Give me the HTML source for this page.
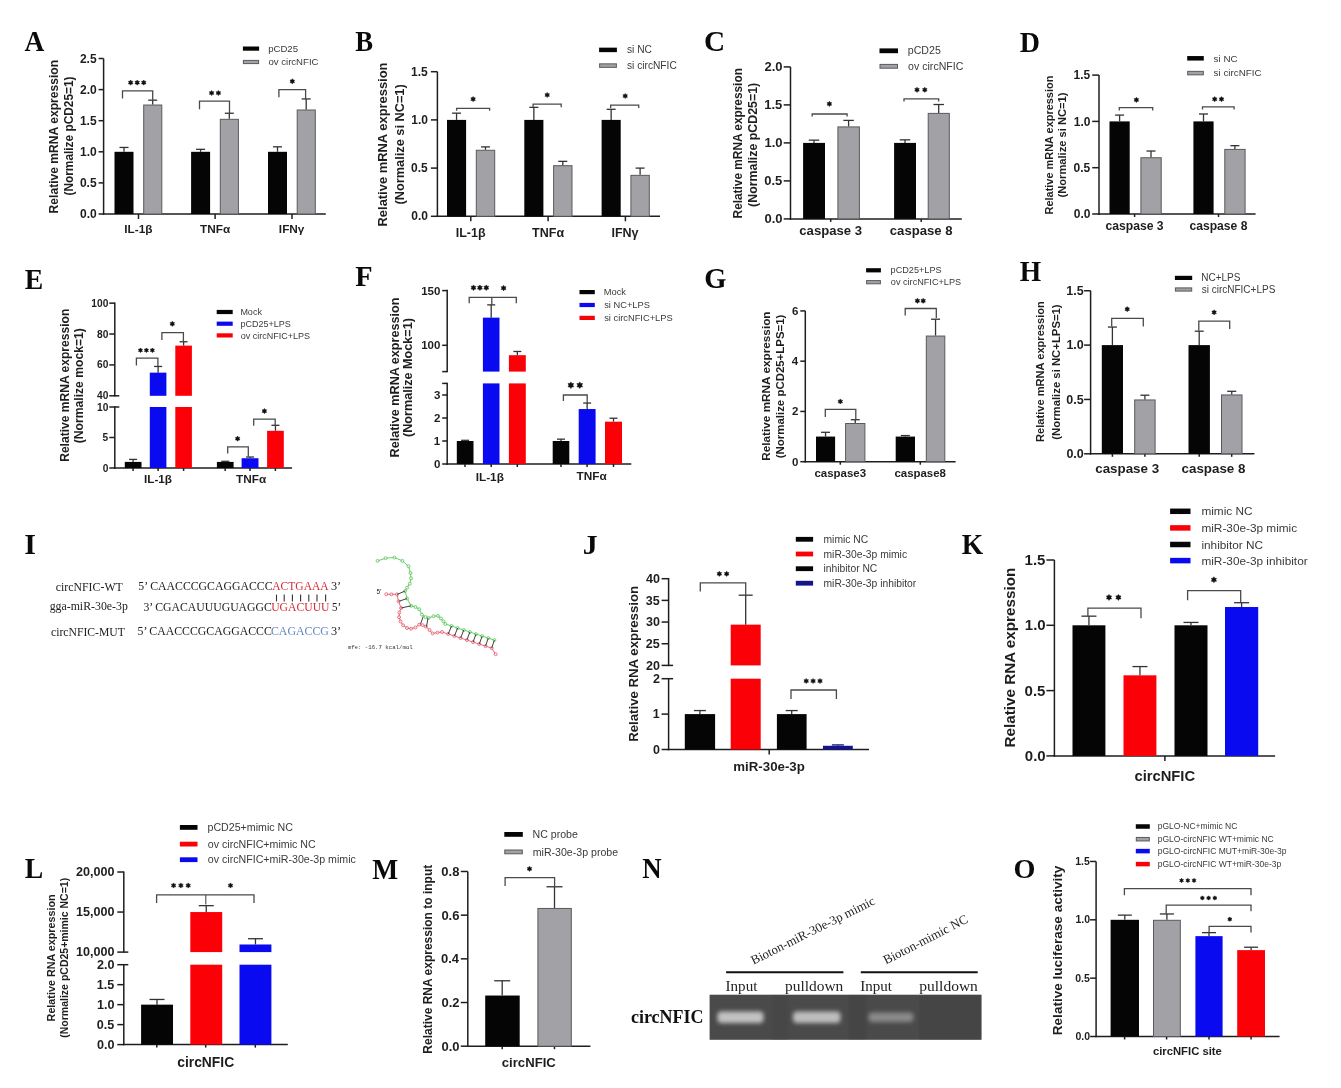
<!DOCTYPE html>
<html><head><meta charset="utf-8"><title>Figure</title>
<style>html,body{margin:0;padding:0;background:#fff;overflow:hidden}svg{filter:blur(0.45px)}svg text{white-space:pre}</style>
</head><body>
<svg width="1341" height="1088" viewBox="0 0 1341 1088" style="display:block"><text x="24.52" y="50.90" font-family='"Liberation Serif", serif' font-weight="bold" font-size="29.24" fill="#0a0a0a" textLength="19.87" lengthAdjust="spacingAndGlyphs">A</text>
<line x1="103.60" y1="58.50" x2="103.60" y2="214.75" stroke="#1e1e1e" stroke-width="1.5"/>
<line x1="98.60" y1="214.00" x2="103.60" y2="214.00" stroke="#1e1e1e" stroke-width="1.5"/>
<text x="80.10" y="218.14" font-family='"Liberation Sans", sans-serif' font-weight="bold" font-size="12.00" fill="#1e1e1e">0.0</text>
<line x1="98.60" y1="182.90" x2="103.60" y2="182.90" stroke="#1e1e1e" stroke-width="1.5"/>
<text x="79.92" y="187.04" font-family='"Liberation Sans", sans-serif' font-weight="bold" font-size="12.00" fill="#1e1e1e">0.5</text>
<line x1="98.60" y1="151.80" x2="103.60" y2="151.80" stroke="#1e1e1e" stroke-width="1.5"/>
<text x="80.10" y="155.94" font-family='"Liberation Sans", sans-serif' font-weight="bold" font-size="12.00" fill="#1e1e1e">1.0</text>
<line x1="98.60" y1="120.70" x2="103.60" y2="120.70" stroke="#1e1e1e" stroke-width="1.5"/>
<text x="79.92" y="124.84" font-family='"Liberation Sans", sans-serif' font-weight="bold" font-size="12.00" fill="#1e1e1e">1.5</text>
<line x1="98.60" y1="89.60" x2="103.60" y2="89.60" stroke="#1e1e1e" stroke-width="1.5"/>
<text x="80.10" y="93.74" font-family='"Liberation Sans", sans-serif' font-weight="bold" font-size="12.00" fill="#1e1e1e">2.0</text>
<line x1="98.60" y1="58.50" x2="103.60" y2="58.50" stroke="#1e1e1e" stroke-width="1.5"/>
<text x="79.92" y="62.64" font-family='"Liberation Sans", sans-serif' font-weight="bold" font-size="12.00" fill="#1e1e1e">2.5</text>
<line x1="102.85" y1="214.00" x2="325.80" y2="214.00" stroke="#1e1e1e" stroke-width="1.5"/>
<line x1="138.50" y1="214.00" x2="138.50" y2="219.00" stroke="#1e1e1e" stroke-width="1.5"/>
<line x1="215.10" y1="214.00" x2="215.10" y2="219.00" stroke="#1e1e1e" stroke-width="1.5"/>
<line x1="292.00" y1="214.00" x2="292.00" y2="219.00" stroke="#1e1e1e" stroke-width="1.5"/>
<rect x="114.50" y="151.80" width="19.00" height="62.20" fill="#050505"/>
<line x1="124.00" y1="151.80" x2="124.00" y2="147.45" stroke="#333" stroke-width="1.3"/>
<line x1="119.50" y1="147.45" x2="128.50" y2="147.45" stroke="#333" stroke-width="1.3"/>
<rect x="143.70" y="105.03" width="18.10" height="108.97" fill="#a2a1a6" stroke="#5a5a5e" stroke-width="1.0"/>
<line x1="152.70" y1="104.53" x2="152.70" y2="100.17" stroke="#333" stroke-width="1.3"/>
<line x1="148.20" y1="100.17" x2="157.20" y2="100.17" stroke="#333" stroke-width="1.3"/>
<rect x="191.10" y="151.80" width="19.00" height="62.20" fill="#050505"/>
<line x1="200.60" y1="151.80" x2="200.60" y2="149.31" stroke="#333" stroke-width="1.3"/>
<line x1="196.10" y1="149.31" x2="205.10" y2="149.31" stroke="#333" stroke-width="1.3"/>
<rect x="220.30" y="119.33" width="18.10" height="94.67" fill="#a2a1a6" stroke="#5a5a5e" stroke-width="1.0"/>
<line x1="229.30" y1="118.83" x2="229.30" y2="113.24" stroke="#333" stroke-width="1.3"/>
<line x1="224.80" y1="113.24" x2="233.80" y2="113.24" stroke="#333" stroke-width="1.3"/>
<rect x="268.00" y="151.80" width="19.00" height="62.20" fill="#050505"/>
<line x1="277.50" y1="151.80" x2="277.50" y2="146.82" stroke="#333" stroke-width="1.3"/>
<line x1="273.00" y1="146.82" x2="282.00" y2="146.82" stroke="#333" stroke-width="1.3"/>
<rect x="297.20" y="110.00" width="18.10" height="104.00" fill="#a2a1a6" stroke="#5a5a5e" stroke-width="1.0"/>
<line x1="306.20" y1="109.50" x2="306.20" y2="98.93" stroke="#333" stroke-width="1.3"/>
<line x1="301.70" y1="98.93" x2="310.70" y2="98.93" stroke="#333" stroke-width="1.3"/>
<polyline points="122.50,98.60 122.50,90.80 152.70,90.80 152.70,99.90" fill="none" stroke="#4a4a4a" stroke-width="1.3" stroke-linejoin="miter"/>
<polygon points="130.65,80.00 131.43,81.25 132.90,81.30 132.21,82.60 132.90,83.90 131.43,83.95 130.65,85.20 129.87,83.95 128.40,83.90 129.09,82.60 128.40,81.30 129.87,81.25" fill="#111" stroke="#111" stroke-width="0.5" stroke-linejoin="round"/>
<polygon points="137.20,80.00 137.98,81.25 139.45,81.30 138.76,82.60 139.45,83.90 137.98,83.95 137.20,85.20 136.42,83.95 134.95,83.90 135.64,82.60 134.95,81.30 136.42,81.25" fill="#111" stroke="#111" stroke-width="0.5" stroke-linejoin="round"/>
<polygon points="143.75,80.00 144.53,81.25 146.00,81.30 145.31,82.60 146.00,83.90 144.53,83.95 143.75,85.20 142.97,83.95 141.50,83.90 142.19,82.60 141.50,81.30 142.97,81.25" fill="#111" stroke="#111" stroke-width="0.5" stroke-linejoin="round"/>
<polyline points="199.50,109.20 199.50,101.10 229.50,101.10 229.50,113.30" fill="none" stroke="#4a4a4a" stroke-width="1.3" stroke-linejoin="miter"/>
<polygon points="211.60,90.40 212.38,91.65 213.85,91.70 213.16,93.00 213.85,94.30 212.38,94.35 211.60,95.60 210.82,94.35 209.35,94.30 210.04,93.00 209.35,91.70 210.82,91.65" fill="#111" stroke="#111" stroke-width="0.5" stroke-linejoin="round"/>
<polygon points="218.40,90.40 219.18,91.65 220.65,91.70 219.96,93.00 220.65,94.30 219.18,94.35 218.40,95.60 217.62,94.35 216.15,94.30 216.84,93.00 216.15,91.70 217.62,91.65" fill="#111" stroke="#111" stroke-width="0.5" stroke-linejoin="round"/>
<polyline points="278.90,97.30 278.90,89.70 305.60,89.70 305.60,98.90" fill="none" stroke="#4a4a4a" stroke-width="1.3" stroke-linejoin="miter"/>
<polygon points="292.30,78.70 293.08,79.95 294.55,80.00 293.86,81.30 294.55,82.60 293.08,82.65 292.30,83.90 291.52,82.65 290.05,82.60 290.74,81.30 290.05,80.00 291.52,79.95" fill="#111" stroke="#111" stroke-width="0.5" stroke-linejoin="round"/>
<rect x="242.90" y="46.50" width="16.20" height="4.20" fill="#050505"/>
<text x="268.18" y="51.91" font-family='"Liberation Sans", sans-serif' font-weight="normal" font-size="9.60" fill="#3a3a3a">pCD25</text>
<rect x="243.40" y="60.40" width="15.20" height="3.20" fill="#a2a1a6" stroke="#5a5a5e" stroke-width="1.0"/>
<text x="268.42" y="65.31" font-family='"Liberation Sans", sans-serif' font-weight="normal" font-size="9.60" fill="#3a3a3a">ov circNFIC</text>
<text transform="translate(53.80,136.60) rotate(-90)" x="-76.79" y="4.17" font-family='"Liberation Sans", sans-serif' font-weight="bold" font-size="12.10" fill="#1e1e1e">Relative mRNA expression</text>
<text transform="translate(68.50,136.00) rotate(-90)" x="-59.59" y="4.10" font-family='"Liberation Sans", sans-serif' font-weight="bold" font-size="11.88" fill="#1e1e1e">(Normalize pCD25=1)</text>
<text x="124.22" y="233.07" font-family='"Liberation Sans", sans-serif' font-weight="bold" font-size="11.80" fill="#1e1e1e">IL-1β</text>
<text x="200.00" y="233.07" font-family='"Liberation Sans", sans-serif' font-weight="bold" font-size="11.80" fill="#1e1e1e">TNFα</text>
<text x="278.87" y="233.07" font-family='"Liberation Sans", sans-serif' font-weight="bold" font-size="11.80" fill="#1e1e1e">IFNγ</text>
<text x="355.30" y="51.45" font-family='"Liberation Serif", serif' font-weight="bold" font-size="29.39" fill="#0a0a0a" textLength="17.82" lengthAdjust="spacingAndGlyphs">B</text>
<line x1="437.40" y1="71.70" x2="437.40" y2="217.05" stroke="#1e1e1e" stroke-width="1.5"/>
<line x1="430.90" y1="216.30" x2="437.40" y2="216.30" stroke="#1e1e1e" stroke-width="1.5"/>
<text x="411.30" y="220.44" font-family='"Liberation Sans", sans-serif' font-weight="bold" font-size="12.00" fill="#1e1e1e">0.0</text>
<line x1="430.90" y1="168.10" x2="437.40" y2="168.10" stroke="#1e1e1e" stroke-width="1.5"/>
<text x="411.12" y="172.24" font-family='"Liberation Sans", sans-serif' font-weight="bold" font-size="12.00" fill="#1e1e1e">0.5</text>
<line x1="430.90" y1="119.90" x2="437.40" y2="119.90" stroke="#1e1e1e" stroke-width="1.5"/>
<text x="411.30" y="124.04" font-family='"Liberation Sans", sans-serif' font-weight="bold" font-size="12.00" fill="#1e1e1e">1.0</text>
<line x1="430.90" y1="71.70" x2="437.40" y2="71.70" stroke="#1e1e1e" stroke-width="1.5"/>
<text x="411.12" y="75.84" font-family='"Liberation Sans", sans-serif' font-weight="bold" font-size="12.00" fill="#1e1e1e">1.5</text>
<line x1="436.65" y1="216.30" x2="660.00" y2="216.30" stroke="#1e1e1e" stroke-width="1.5"/>
<line x1="470.80" y1="216.30" x2="470.80" y2="221.30" stroke="#1e1e1e" stroke-width="1.5"/>
<line x1="548.10" y1="216.30" x2="548.10" y2="221.30" stroke="#1e1e1e" stroke-width="1.5"/>
<line x1="625.40" y1="216.30" x2="625.40" y2="221.30" stroke="#1e1e1e" stroke-width="1.5"/>
<rect x="447.00" y="119.90" width="19.10" height="96.40" fill="#050505"/>
<line x1="456.55" y1="119.90" x2="456.55" y2="113.15" stroke="#333" stroke-width="1.3"/>
<line x1="452.05" y1="113.15" x2="461.05" y2="113.15" stroke="#333" stroke-width="1.3"/>
<rect x="476.30" y="150.28" width="18.40" height="66.02" fill="#a2a1a6" stroke="#5a5a5e" stroke-width="1.0"/>
<line x1="485.50" y1="149.78" x2="485.50" y2="146.89" stroke="#333" stroke-width="1.3"/>
<line x1="481.00" y1="146.89" x2="490.00" y2="146.89" stroke="#333" stroke-width="1.3"/>
<rect x="524.30" y="119.90" width="19.10" height="96.40" fill="#050505"/>
<line x1="533.85" y1="119.90" x2="533.85" y2="107.37" stroke="#333" stroke-width="1.3"/>
<line x1="529.35" y1="107.37" x2="538.35" y2="107.37" stroke="#333" stroke-width="1.3"/>
<rect x="553.60" y="165.71" width="18.40" height="50.59" fill="#a2a1a6" stroke="#5a5a5e" stroke-width="1.0"/>
<line x1="562.80" y1="165.21" x2="562.80" y2="161.35" stroke="#333" stroke-width="1.3"/>
<line x1="558.30" y1="161.35" x2="567.30" y2="161.35" stroke="#333" stroke-width="1.3"/>
<rect x="601.60" y="119.90" width="19.10" height="96.40" fill="#050505"/>
<line x1="611.15" y1="119.90" x2="611.15" y2="109.30" stroke="#333" stroke-width="1.3"/>
<line x1="606.65" y1="109.30" x2="615.65" y2="109.30" stroke="#333" stroke-width="1.3"/>
<rect x="630.90" y="175.35" width="18.40" height="40.95" fill="#a2a1a6" stroke="#5a5a5e" stroke-width="1.0"/>
<line x1="640.10" y1="174.85" x2="640.10" y2="168.10" stroke="#333" stroke-width="1.3"/>
<line x1="635.60" y1="168.10" x2="644.60" y2="168.10" stroke="#333" stroke-width="1.3"/>
<polyline points="456.60,110.70 456.60,108.30 489.60,108.30 489.60,110.70" fill="none" stroke="#4a4a4a" stroke-width="1.3" stroke-linejoin="miter"/>
<polygon points="473.10,96.50 473.88,97.75 475.35,97.80 474.66,99.10 475.35,100.40 473.88,100.45 473.10,101.70 472.32,100.45 470.85,100.40 471.54,99.10 470.85,97.80 472.32,97.75" fill="#111" stroke="#111" stroke-width="0.5" stroke-linejoin="round"/>
<polyline points="533.10,107.20 533.10,104.20 561.20,104.20 561.20,107.20" fill="none" stroke="#4a4a4a" stroke-width="1.3" stroke-linejoin="miter"/>
<polygon points="547.20,92.40 547.98,93.65 549.45,93.70 548.76,95.00 549.45,96.30 547.98,96.35 547.20,97.60 546.42,96.35 544.95,96.30 545.64,95.00 544.95,93.70 546.42,93.65" fill="#111" stroke="#111" stroke-width="0.5" stroke-linejoin="round"/>
<polyline points="610.70,108.00 610.70,105.20 638.70,105.20 638.70,108.00" fill="none" stroke="#4a4a4a" stroke-width="1.3" stroke-linejoin="miter"/>
<polygon points="625.20,93.40 625.98,94.65 627.45,94.70 626.76,96.00 627.45,97.30 625.98,97.35 625.20,98.60 624.42,97.35 622.95,97.30 623.64,96.00 622.95,94.70 624.42,94.65" fill="#111" stroke="#111" stroke-width="0.5" stroke-linejoin="round"/>
<rect x="599.10" y="47.65" width="17.80" height="4.50" fill="#050505"/>
<text x="626.99" y="53.42" font-family='"Liberation Sans", sans-serif' font-weight="normal" font-size="10.20" fill="#3a3a3a">si NC</text>
<rect x="599.60" y="63.85" width="16.80" height="3.50" fill="#a2a1a6" stroke="#5a5a5e" stroke-width="1.0"/>
<text x="626.99" y="69.12" font-family='"Liberation Sans", sans-serif' font-weight="normal" font-size="10.20" fill="#3a3a3a">si circNFIC</text>
<text transform="translate(382.50,144.40) rotate(-90)" x="-82.09" y="4.46" font-family='"Liberation Sans", sans-serif' font-weight="bold" font-size="12.93" fill="#1e1e1e">Relative mRNA expression</text>
<text transform="translate(399.30,144.40) rotate(-90)" x="-60.04" y="4.40" font-family='"Liberation Sans", sans-serif' font-weight="bold" font-size="12.75" fill="#1e1e1e">(Normalize si NC=1)</text>
<text x="455.68" y="237.41" font-family='"Liberation Sans", sans-serif' font-weight="bold" font-size="12.50" fill="#1e1e1e">IL-1β</text>
<text x="532.10" y="237.41" font-family='"Liberation Sans", sans-serif' font-weight="bold" font-size="12.50" fill="#1e1e1e">TNFα</text>
<text x="611.49" y="237.41" font-family='"Liberation Sans", sans-serif' font-weight="bold" font-size="12.50" fill="#1e1e1e">IFNγ</text>
<text x="704.14" y="50.61" font-family='"Liberation Serif", serif' font-weight="bold" font-size="28.81" fill="#0a0a0a" textLength="21.12" lengthAdjust="spacingAndGlyphs">C</text>
<line x1="790.50" y1="66.90" x2="790.50" y2="219.65" stroke="#1e1e1e" stroke-width="1.5"/>
<line x1="783.70" y1="218.90" x2="790.50" y2="218.90" stroke="#1e1e1e" stroke-width="1.5"/>
<text x="764.45" y="223.39" font-family='"Liberation Sans", sans-serif' font-weight="bold" font-size="13.00" fill="#1e1e1e">0.0</text>
<line x1="783.70" y1="180.90" x2="790.50" y2="180.90" stroke="#1e1e1e" stroke-width="1.5"/>
<text x="764.25" y="185.39" font-family='"Liberation Sans", sans-serif' font-weight="bold" font-size="13.00" fill="#1e1e1e">0.5</text>
<line x1="783.70" y1="142.90" x2="790.50" y2="142.90" stroke="#1e1e1e" stroke-width="1.5"/>
<text x="764.45" y="147.39" font-family='"Liberation Sans", sans-serif' font-weight="bold" font-size="13.00" fill="#1e1e1e">1.0</text>
<line x1="783.70" y1="104.90" x2="790.50" y2="104.90" stroke="#1e1e1e" stroke-width="1.5"/>
<text x="764.25" y="109.39" font-family='"Liberation Sans", sans-serif' font-weight="bold" font-size="13.00" fill="#1e1e1e">1.5</text>
<line x1="783.70" y1="66.90" x2="790.50" y2="66.90" stroke="#1e1e1e" stroke-width="1.5"/>
<text x="764.45" y="71.39" font-family='"Liberation Sans", sans-serif' font-weight="bold" font-size="13.00" fill="#1e1e1e">2.0</text>
<line x1="789.75" y1="218.90" x2="961.80" y2="218.90" stroke="#1e1e1e" stroke-width="1.5"/>
<line x1="830.70" y1="218.90" x2="830.70" y2="221.90" stroke="#1e1e1e" stroke-width="1.5"/>
<line x1="921.20" y1="218.90" x2="921.20" y2="221.90" stroke="#1e1e1e" stroke-width="1.5"/>
<rect x="803.10" y="142.90" width="21.90" height="76.00" fill="#050505"/>
<line x1="814.00" y1="142.90" x2="814.00" y2="140.16" stroke="#333" stroke-width="1.3"/>
<line x1="808.75" y1="140.16" x2="819.25" y2="140.16" stroke="#333" stroke-width="1.3"/>
<rect x="837.90" y="126.91" width="21.50" height="91.99" fill="#a2a1a6" stroke="#5a5a5e" stroke-width="1.0"/>
<line x1="848.60" y1="126.41" x2="848.60" y2="120.40" stroke="#333" stroke-width="1.3"/>
<line x1="843.35" y1="120.40" x2="853.85" y2="120.40" stroke="#333" stroke-width="1.3"/>
<rect x="894.10" y="142.90" width="21.90" height="76.00" fill="#050505"/>
<line x1="905.00" y1="142.90" x2="905.00" y2="139.86" stroke="#333" stroke-width="1.3"/>
<line x1="899.75" y1="139.86" x2="910.25" y2="139.86" stroke="#333" stroke-width="1.3"/>
<rect x="928.20" y="113.38" width="21.10" height="105.52" fill="#a2a1a6" stroke="#5a5a5e" stroke-width="1.0"/>
<line x1="938.70" y1="112.88" x2="938.70" y2="104.52" stroke="#333" stroke-width="1.3"/>
<line x1="933.45" y1="104.52" x2="943.95" y2="104.52" stroke="#333" stroke-width="1.3"/>
<polyline points="812.20,116.50 812.20,114.00 847.10,114.00 847.10,116.50" fill="none" stroke="#4a4a4a" stroke-width="1.3" stroke-linejoin="miter"/>
<polygon points="829.40,101.30 830.18,102.55 831.65,102.60 830.96,103.90 831.65,105.20 830.18,105.25 829.40,106.50 828.62,105.25 827.15,105.20 827.84,103.90 827.15,102.60 828.62,102.55" fill="#111" stroke="#111" stroke-width="0.5" stroke-linejoin="round"/>
<polyline points="904.00,101.50 904.00,98.80 938.70,98.80 938.70,101.50" fill="none" stroke="#4a4a4a" stroke-width="1.3" stroke-linejoin="miter"/>
<polygon points="917.00,87.20 917.78,88.45 919.25,88.50 918.56,89.80 919.25,91.10 917.78,91.15 917.00,92.40 916.22,91.15 914.75,91.10 915.44,89.80 914.75,88.50 916.22,88.45" fill="#111" stroke="#111" stroke-width="0.5" stroke-linejoin="round"/>
<polygon points="924.80,87.20 925.58,88.45 927.05,88.50 926.36,89.80 927.05,91.10 925.58,91.15 924.80,92.40 924.02,91.15 922.55,91.10 923.24,89.80 922.55,88.50 924.02,88.45" fill="#111" stroke="#111" stroke-width="0.5" stroke-linejoin="round"/>
<rect x="879.50" y="48.40" width="18.50" height="4.80" fill="#050505"/>
<text x="907.81" y="54.46" font-family='"Liberation Sans", sans-serif' font-weight="normal" font-size="10.60" fill="#3a3a3a">pCD25</text>
<rect x="880.00" y="64.40" width="17.50" height="3.80" fill="#a2a1a6" stroke="#5a5a5e" stroke-width="1.0"/>
<text x="908.08" y="69.96" font-family='"Liberation Sans", sans-serif' font-weight="normal" font-size="10.60" fill="#3a3a3a">ov circNFIC</text>
<text transform="translate(737.70,143.20) rotate(-90)" x="-75.22" y="4.09" font-family='"Liberation Sans", sans-serif' font-weight="bold" font-size="11.85" fill="#1e1e1e">Relative mRNA expression</text>
<text transform="translate(753.00,144.80) rotate(-90)" x="-62.12" y="4.27" font-family='"Liberation Sans", sans-serif' font-weight="bold" font-size="12.38" fill="#1e1e1e">(Normalize pCD25=1)</text>
<text x="799.33" y="235.32" font-family='"Liberation Sans", sans-serif' font-weight="bold" font-size="13.11" fill="#1e1e1e">caspase 3</text>
<text x="889.83" y="235.32" font-family='"Liberation Sans", sans-serif' font-weight="bold" font-size="13.10" fill="#1e1e1e">caspase 8</text>
<text x="1019.68" y="51.70" font-family='"Liberation Serif", serif' font-weight="bold" font-size="29.92" fill="#0a0a0a" textLength="20.24" lengthAdjust="spacingAndGlyphs">D</text>
<line x1="1099.00" y1="75.10" x2="1099.00" y2="214.75" stroke="#1e1e1e" stroke-width="1.5"/>
<line x1="1092.20" y1="214.00" x2="1099.00" y2="214.00" stroke="#1e1e1e" stroke-width="1.5"/>
<text x="1073.80" y="218.14" font-family='"Liberation Sans", sans-serif' font-weight="bold" font-size="12.00" fill="#1e1e1e">0.0</text>
<line x1="1092.20" y1="167.70" x2="1099.00" y2="167.70" stroke="#1e1e1e" stroke-width="1.5"/>
<text x="1073.62" y="171.84" font-family='"Liberation Sans", sans-serif' font-weight="bold" font-size="12.00" fill="#1e1e1e">0.5</text>
<line x1="1092.20" y1="121.40" x2="1099.00" y2="121.40" stroke="#1e1e1e" stroke-width="1.5"/>
<text x="1073.80" y="125.54" font-family='"Liberation Sans", sans-serif' font-weight="bold" font-size="12.00" fill="#1e1e1e">1.0</text>
<line x1="1092.20" y1="75.10" x2="1099.00" y2="75.10" stroke="#1e1e1e" stroke-width="1.5"/>
<text x="1073.62" y="79.24" font-family='"Liberation Sans", sans-serif' font-weight="bold" font-size="12.00" fill="#1e1e1e">1.5</text>
<line x1="1098.25" y1="214.00" x2="1255.60" y2="214.00" stroke="#1e1e1e" stroke-width="1.5"/>
<line x1="1134.60" y1="214.00" x2="1134.60" y2="217.00" stroke="#1e1e1e" stroke-width="1.5"/>
<line x1="1218.50" y1="214.00" x2="1218.50" y2="217.00" stroke="#1e1e1e" stroke-width="1.5"/>
<rect x="1109.50" y="121.40" width="20.20" height="92.60" fill="#050505"/>
<line x1="1119.60" y1="121.40" x2="1119.60" y2="115.10" stroke="#333" stroke-width="1.3"/>
<line x1="1115.10" y1="115.10" x2="1124.10" y2="115.10" stroke="#333" stroke-width="1.3"/>
<rect x="1140.90" y="157.74" width="20.30" height="56.26" fill="#a2a1a6" stroke="#5a5a5e" stroke-width="1.0"/>
<line x1="1151.00" y1="157.24" x2="1151.00" y2="151.03" stroke="#333" stroke-width="1.3"/>
<line x1="1146.50" y1="151.03" x2="1155.50" y2="151.03" stroke="#333" stroke-width="1.3"/>
<rect x="1193.40" y="121.40" width="20.20" height="92.60" fill="#050505"/>
<line x1="1203.50" y1="121.40" x2="1203.50" y2="113.99" stroke="#333" stroke-width="1.3"/>
<line x1="1199.00" y1="113.99" x2="1208.00" y2="113.99" stroke="#333" stroke-width="1.3"/>
<rect x="1224.80" y="149.40" width="20.30" height="64.60" fill="#a2a1a6" stroke="#5a5a5e" stroke-width="1.0"/>
<line x1="1234.90" y1="148.90" x2="1234.90" y2="145.66" stroke="#333" stroke-width="1.3"/>
<line x1="1230.40" y1="145.66" x2="1239.40" y2="145.66" stroke="#333" stroke-width="1.3"/>
<polyline points="1119.30,110.60 1119.30,107.60 1152.70,107.60 1152.70,110.60" fill="none" stroke="#4a4a4a" stroke-width="1.3" stroke-linejoin="miter"/>
<polygon points="1136.40,97.30 1137.18,98.55 1138.65,98.60 1137.96,99.90 1138.65,101.20 1137.18,101.25 1136.40,102.50 1135.62,101.25 1134.15,101.20 1134.84,99.90 1134.15,98.60 1135.62,98.55" fill="#111" stroke="#111" stroke-width="0.5" stroke-linejoin="round"/>
<polyline points="1202.50,109.40 1202.50,106.90 1234.10,106.90 1234.10,109.40" fill="none" stroke="#4a4a4a" stroke-width="1.3" stroke-linejoin="miter"/>
<polygon points="1214.70,96.60 1215.48,97.85 1216.95,97.90 1216.26,99.20 1216.95,100.50 1215.48,100.55 1214.70,101.80 1213.92,100.55 1212.45,100.50 1213.14,99.20 1212.45,97.90 1213.92,97.85" fill="#111" stroke="#111" stroke-width="0.5" stroke-linejoin="round"/>
<polygon points="1221.50,96.60 1222.28,97.85 1223.75,97.90 1223.06,99.20 1223.75,100.50 1222.28,100.55 1221.50,101.80 1220.72,100.55 1219.25,100.50 1219.94,99.20 1219.25,97.90 1220.72,97.85" fill="#111" stroke="#111" stroke-width="0.5" stroke-linejoin="round"/>
<rect x="1187.20" y="56.05" width="16.60" height="4.50" fill="#050505"/>
<text x="1213.61" y="61.68" font-family='"Liberation Sans", sans-serif' font-weight="normal" font-size="9.80" fill="#3a3a3a">si NC</text>
<rect x="1187.70" y="71.35" width="15.60" height="3.50" fill="#a2a1a6" stroke="#5a5a5e" stroke-width="1.0"/>
<text x="1213.61" y="76.48" font-family='"Liberation Sans", sans-serif' font-weight="normal" font-size="9.80" fill="#3a3a3a">si circNFIC</text>
<text transform="translate(1049.50,145.00) rotate(-90)" x="-69.46" y="3.78" font-family='"Liberation Sans", sans-serif' font-weight="bold" font-size="10.94" fill="#1e1e1e">Relative mRNA expression</text>
<text transform="translate(1062.60,145.00) rotate(-90)" x="-52.56" y="3.85" font-family='"Liberation Sans", sans-serif' font-weight="bold" font-size="11.16" fill="#1e1e1e">(Normalize si NC=1)</text>
<text x="1105.51" y="230.29" font-family='"Liberation Sans", sans-serif' font-weight="bold" font-size="12.16" fill="#1e1e1e">caspase 3</text>
<text x="1189.41" y="230.29" font-family='"Liberation Sans", sans-serif' font-weight="bold" font-size="12.14" fill="#1e1e1e">caspase 8</text>
<text x="24.69" y="288.70" font-family='"Liberation Serif", serif' font-weight="bold" font-size="29.01" fill="#0a0a0a" textLength="18.45" lengthAdjust="spacingAndGlyphs">E</text>
<line x1="114.80" y1="302.45" x2="114.80" y2="396.55" stroke="#1e1e1e" stroke-width="1.5"/>
<line x1="114.80" y1="406.25" x2="114.80" y2="468.75" stroke="#1e1e1e" stroke-width="1.5"/>
<line x1="114.80" y1="395.80" x2="119.30" y2="395.80" stroke="#1e1e1e" stroke-width="1.5"/>
<line x1="114.80" y1="407.00" x2="119.30" y2="407.00" stroke="#1e1e1e" stroke-width="1.5"/>
<line x1="109.30" y1="303.16" x2="114.80" y2="303.16" stroke="#1e1e1e" stroke-width="1.5"/>
<text x="91.33" y="306.68" font-family='"Liberation Sans", sans-serif' font-weight="bold" font-size="10.20" fill="#1e1e1e">100</text>
<line x1="109.30" y1="334.04" x2="114.80" y2="334.04" stroke="#1e1e1e" stroke-width="1.5"/>
<text x="96.99" y="337.56" font-family='"Liberation Sans", sans-serif' font-weight="bold" font-size="10.20" fill="#1e1e1e">80</text>
<line x1="109.30" y1="364.92" x2="114.80" y2="364.92" stroke="#1e1e1e" stroke-width="1.5"/>
<text x="96.99" y="368.44" font-family='"Liberation Sans", sans-serif' font-weight="bold" font-size="10.20" fill="#1e1e1e">60</text>
<line x1="109.30" y1="395.80" x2="114.80" y2="395.80" stroke="#1e1e1e" stroke-width="1.5"/>
<text x="96.99" y="399.32" font-family='"Liberation Sans", sans-serif' font-weight="bold" font-size="10.20" fill="#1e1e1e">40</text>
<line x1="109.30" y1="407.00" x2="114.80" y2="407.00" stroke="#1e1e1e" stroke-width="1.5"/>
<text x="96.99" y="410.52" font-family='"Liberation Sans", sans-serif' font-weight="bold" font-size="10.20" fill="#1e1e1e">10</text>
<line x1="109.30" y1="437.50" x2="114.80" y2="437.50" stroke="#1e1e1e" stroke-width="1.5"/>
<text x="102.49" y="441.02" font-family='"Liberation Sans", sans-serif' font-weight="bold" font-size="10.20" fill="#1e1e1e">5</text>
<line x1="109.30" y1="468.00" x2="114.80" y2="468.00" stroke="#1e1e1e" stroke-width="1.5"/>
<text x="102.65" y="471.52" font-family='"Liberation Sans", sans-serif' font-weight="bold" font-size="10.20" fill="#1e1e1e">0</text>
<line x1="114.05" y1="468.00" x2="292.10" y2="468.00" stroke="#1e1e1e" stroke-width="1.5"/>
<line x1="133.10" y1="468.00" x2="133.10" y2="471.00" stroke="#1e1e1e" stroke-width="1.5"/>
<line x1="158.10" y1="468.00" x2="158.10" y2="471.00" stroke="#1e1e1e" stroke-width="1.5"/>
<line x1="183.60" y1="468.00" x2="183.60" y2="471.00" stroke="#1e1e1e" stroke-width="1.5"/>
<line x1="225.20" y1="468.00" x2="225.20" y2="471.00" stroke="#1e1e1e" stroke-width="1.5"/>
<line x1="250.00" y1="468.00" x2="250.00" y2="471.00" stroke="#1e1e1e" stroke-width="1.5"/>
<line x1="275.40" y1="468.00" x2="275.40" y2="471.00" stroke="#1e1e1e" stroke-width="1.5"/>
<rect x="124.80" y="461.90" width="16.70" height="6.10" fill="#050505"/>
<line x1="133.10" y1="461.90" x2="133.10" y2="459.40" stroke="#333" stroke-width="1.3"/>
<line x1="129.10" y1="459.40" x2="137.10" y2="459.40" stroke="#333" stroke-width="1.3"/>
<rect x="149.80" y="407.00" width="16.60" height="61.00" fill="#0a0af0"/>
<rect x="149.80" y="372.64" width="16.60" height="23.16" fill="#0a0af0"/>
<line x1="158.10" y1="372.64" x2="158.10" y2="366.46" stroke="#333" stroke-width="1.3"/>
<line x1="154.10" y1="366.46" x2="162.10" y2="366.46" stroke="#333" stroke-width="1.3"/>
<rect x="175.30" y="407.00" width="16.60" height="61.00" fill="#fb0007"/>
<rect x="175.30" y="345.62" width="16.60" height="50.18" fill="#fb0007"/>
<line x1="183.60" y1="345.62" x2="183.60" y2="341.76" stroke="#333" stroke-width="1.3"/>
<line x1="179.60" y1="341.76" x2="187.60" y2="341.76" stroke="#333" stroke-width="1.3"/>
<rect x="216.90" y="461.90" width="16.70" height="6.10" fill="#050505"/>
<line x1="225.25" y1="461.90" x2="225.25" y2="461.29" stroke="#333" stroke-width="1.3"/>
<line x1="221.25" y1="461.29" x2="229.25" y2="461.29" stroke="#333" stroke-width="1.3"/>
<rect x="241.60" y="458.24" width="16.90" height="9.76" fill="#0a0af0"/>
<line x1="250.05" y1="458.24" x2="250.05" y2="457.02" stroke="#333" stroke-width="1.3"/>
<line x1="246.05" y1="457.02" x2="254.05" y2="457.02" stroke="#333" stroke-width="1.3"/>
<rect x="267.10" y="430.79" width="16.70" height="37.21" fill="#fb0007"/>
<line x1="275.45" y1="430.79" x2="275.45" y2="425.30" stroke="#333" stroke-width="1.3"/>
<line x1="271.45" y1="425.30" x2="279.45" y2="425.30" stroke="#333" stroke-width="1.3"/>
<polyline points="136.40,365.40 136.40,358.20 157.90,358.20 157.90,366.50" fill="none" stroke="#4a4a4a" stroke-width="1.3" stroke-linejoin="miter"/>
<polygon points="140.45,347.95 141.16,349.08 142.49,349.12 141.86,350.30 142.49,351.48 141.16,351.52 140.45,352.65 139.74,351.52 138.41,351.48 139.04,350.30 138.41,349.12 139.74,349.08" fill="#111" stroke="#111" stroke-width="0.5" stroke-linejoin="round"/>
<polygon points="146.40,347.95 147.10,349.08 148.44,349.12 147.81,350.30 148.44,351.48 147.10,351.52 146.40,352.65 145.69,351.52 144.36,351.48 144.99,350.30 144.36,349.12 145.69,349.08" fill="#111" stroke="#111" stroke-width="0.5" stroke-linejoin="round"/>
<polygon points="152.35,347.95 153.06,349.08 154.39,349.12 153.76,350.30 154.39,351.48 153.06,351.52 152.35,352.65 151.64,351.52 150.31,351.48 150.94,350.30 150.31,349.12 151.64,349.08" fill="#111" stroke="#111" stroke-width="0.5" stroke-linejoin="round"/>
<polyline points="161.90,339.90 161.90,332.70 183.40,332.70 183.40,341.80" fill="none" stroke="#4a4a4a" stroke-width="1.3" stroke-linejoin="miter"/>
<polygon points="172.30,321.20 173.08,322.45 174.55,322.50 173.86,323.80 174.55,325.10 173.08,325.15 172.30,326.40 171.52,325.15 170.05,325.10 170.74,323.80 170.05,322.50 171.52,322.45" fill="#111" stroke="#111" stroke-width="0.5" stroke-linejoin="round"/>
<polyline points="227.70,453.50 227.70,446.80 248.30,446.80 248.30,456.70" fill="none" stroke="#4a4a4a" stroke-width="1.3" stroke-linejoin="miter"/>
<polygon points="237.60,436.10 238.38,437.35 239.85,437.40 239.16,438.70 239.85,440.00 238.38,440.05 237.60,441.30 236.82,440.05 235.35,440.00 236.04,438.70 235.35,437.40 236.82,437.35" fill="#111" stroke="#111" stroke-width="0.5" stroke-linejoin="round"/>
<polyline points="253.70,425.80 253.70,419.10 275.20,419.10 275.20,425.80" fill="none" stroke="#4a4a4a" stroke-width="1.3" stroke-linejoin="miter"/>
<polygon points="264.40,408.50 265.18,409.75 266.65,409.80 265.96,411.10 266.65,412.40 265.18,412.45 264.40,413.70 263.62,412.45 262.15,412.40 262.84,411.10 262.15,409.80 263.62,409.75" fill="#111" stroke="#111" stroke-width="0.5" stroke-linejoin="round"/>
<rect x="216.70" y="309.90" width="16.00" height="4.20" fill="#050505"/>
<text x="240.38" y="315.11" font-family='"Liberation Sans", sans-serif' font-weight="normal" font-size="9.00" fill="#3a3a3a">Mock</text>
<rect x="216.70" y="321.60" width="16.00" height="4.20" fill="#0a0af0"/>
<text x="240.51" y="326.81" font-family='"Liberation Sans", sans-serif' font-weight="normal" font-size="9.00" fill="#3a3a3a">pCD25+LPS</text>
<rect x="216.70" y="333.30" width="16.00" height="4.20" fill="#fb0007"/>
<text x="240.74" y="338.50" font-family='"Liberation Sans", sans-serif' font-weight="normal" font-size="9.00" fill="#3a3a3a">ov circNFIC+LPS</text>
<text transform="translate(64.70,385.20) rotate(-90)" x="-76.63" y="4.17" font-family='"Liberation Sans", sans-serif' font-weight="bold" font-size="12.07" fill="#1e1e1e">Relative mRNA expression</text>
<text transform="translate(79.00,385.60) rotate(-90)" x="-57.61" y="4.19" font-family='"Liberation Sans", sans-serif' font-weight="bold" font-size="12.15" fill="#1e1e1e">(Normalize mock=1)</text>
<text x="143.93" y="482.87" font-family='"Liberation Sans", sans-serif' font-weight="bold" font-size="11.79" fill="#1e1e1e">IL-1β</text>
<text x="235.98" y="482.87" font-family='"Liberation Sans", sans-serif' font-weight="bold" font-size="11.81" fill="#1e1e1e">TNFα</text>
<text x="355.17" y="285.70" font-family='"Liberation Serif", serif' font-weight="bold" font-size="28.85" fill="#0a0a0a" textLength="17.33" lengthAdjust="spacingAndGlyphs">F</text>
<line x1="447.20" y1="289.85" x2="447.20" y2="372.35" stroke="#1e1e1e" stroke-width="1.5"/>
<line x1="447.20" y1="382.65" x2="447.20" y2="464.75" stroke="#1e1e1e" stroke-width="1.5"/>
<line x1="442.20" y1="290.60" x2="447.20" y2="290.60" stroke="#1e1e1e" stroke-width="1.5"/>
<text x="421.21" y="294.57" font-family='"Liberation Sans", sans-serif' font-weight="bold" font-size="11.50" fill="#1e1e1e">150</text>
<line x1="442.20" y1="345.30" x2="447.20" y2="345.30" stroke="#1e1e1e" stroke-width="1.5"/>
<text x="421.21" y="349.27" font-family='"Liberation Sans", sans-serif' font-weight="bold" font-size="11.50" fill="#1e1e1e">100</text>
<line x1="442.20" y1="371.60" x2="447.20" y2="371.60" stroke="#1e1e1e" stroke-width="1.5"/>
<line x1="442.20" y1="383.40" x2="447.20" y2="383.40" stroke="#1e1e1e" stroke-width="1.5"/>
<line x1="442.20" y1="395.00" x2="447.20" y2="395.00" stroke="#1e1e1e" stroke-width="1.5"/>
<text x="433.92" y="398.97" font-family='"Liberation Sans", sans-serif' font-weight="bold" font-size="11.50" fill="#1e1e1e">3</text>
<line x1="442.20" y1="418.00" x2="447.20" y2="418.00" stroke="#1e1e1e" stroke-width="1.5"/>
<text x="433.98" y="421.97" font-family='"Liberation Sans", sans-serif' font-weight="bold" font-size="11.50" fill="#1e1e1e">2</text>
<line x1="442.20" y1="441.00" x2="447.20" y2="441.00" stroke="#1e1e1e" stroke-width="1.5"/>
<text x="433.80" y="444.97" font-family='"Liberation Sans", sans-serif' font-weight="bold" font-size="11.50" fill="#1e1e1e">1</text>
<line x1="442.20" y1="464.00" x2="447.20" y2="464.00" stroke="#1e1e1e" stroke-width="1.5"/>
<text x="433.98" y="467.97" font-family='"Liberation Sans", sans-serif' font-weight="bold" font-size="11.50" fill="#1e1e1e">0</text>
<line x1="446.45" y1="464.00" x2="631.30" y2="464.00" stroke="#1e1e1e" stroke-width="1.5"/>
<line x1="465.00" y1="464.00" x2="465.00" y2="467.00" stroke="#1e1e1e" stroke-width="1.5"/>
<line x1="491.20" y1="464.00" x2="491.20" y2="467.00" stroke="#1e1e1e" stroke-width="1.5"/>
<line x1="517.30" y1="464.00" x2="517.30" y2="467.00" stroke="#1e1e1e" stroke-width="1.5"/>
<line x1="561.00" y1="464.00" x2="561.00" y2="467.00" stroke="#1e1e1e" stroke-width="1.5"/>
<line x1="587.10" y1="464.00" x2="587.10" y2="467.00" stroke="#1e1e1e" stroke-width="1.5"/>
<line x1="613.50" y1="464.00" x2="613.50" y2="467.00" stroke="#1e1e1e" stroke-width="1.5"/>
<rect x="456.80" y="441.00" width="16.70" height="23.00" fill="#050505"/>
<line x1="465.10" y1="441.00" x2="465.10" y2="440.31" stroke="#333" stroke-width="1.3"/>
<line x1="461.10" y1="440.31" x2="469.10" y2="440.31" stroke="#333" stroke-width="1.3"/>
<rect x="482.90" y="383.40" width="16.60" height="80.60" fill="#0a0af0"/>
<rect x="482.90" y="317.64" width="16.60" height="53.96" fill="#0a0af0"/>
<line x1="491.20" y1="317.64" x2="491.20" y2="304.87" stroke="#333" stroke-width="1.3"/>
<line x1="487.20" y1="304.87" x2="495.20" y2="304.87" stroke="#333" stroke-width="1.3"/>
<rect x="508.90" y="383.40" width="16.90" height="80.60" fill="#fb0007"/>
<rect x="508.90" y="355.20" width="16.90" height="16.40" fill="#fb0007"/>
<line x1="517.35" y1="355.20" x2="517.35" y2="351.47" stroke="#333" stroke-width="1.3"/>
<line x1="513.35" y1="351.47" x2="521.35" y2="351.47" stroke="#333" stroke-width="1.3"/>
<rect x="552.70" y="441.00" width="16.60" height="23.00" fill="#050505"/>
<line x1="561.00" y1="441.00" x2="561.00" y2="439.16" stroke="#333" stroke-width="1.3"/>
<line x1="557.00" y1="439.16" x2="565.00" y2="439.16" stroke="#333" stroke-width="1.3"/>
<rect x="578.70" y="409.03" width="16.90" height="54.97" fill="#0a0af0"/>
<line x1="587.15" y1="409.03" x2="587.15" y2="403.05" stroke="#333" stroke-width="1.3"/>
<line x1="583.15" y1="403.05" x2="591.15" y2="403.05" stroke="#333" stroke-width="1.3"/>
<rect x="605.00" y="421.68" width="17.00" height="42.32" fill="#fb0007"/>
<line x1="613.50" y1="421.68" x2="613.50" y2="418.23" stroke="#333" stroke-width="1.3"/>
<line x1="609.50" y1="418.23" x2="617.50" y2="418.23" stroke="#333" stroke-width="1.3"/>
<polyline points="469.20,303.20 469.20,297.40 516.30,297.40 516.30,303.20" fill="none" stroke="#4a4a4a" stroke-width="1.3" stroke-linejoin="miter"/>
<line x1="491.80" y1="297.40" x2="491.80" y2="304.70" stroke="#4a4a4a" stroke-width="1.3"/>
<polygon points="473.50,284.90 474.34,286.25 475.92,286.30 475.18,287.70 475.92,289.10 474.34,289.15 473.50,290.50 472.66,289.15 471.08,289.10 471.82,287.70 471.08,286.30 472.66,286.25" fill="#111" stroke="#111" stroke-width="0.5" stroke-linejoin="round"/>
<polygon points="479.90,284.90 480.74,286.25 482.32,286.30 481.58,287.70 482.32,289.10 480.74,289.15 479.90,290.50 479.06,289.15 477.48,289.10 478.22,287.70 477.48,286.30 479.06,286.25" fill="#111" stroke="#111" stroke-width="0.5" stroke-linejoin="round"/>
<polygon points="486.30,284.90 487.14,286.25 488.72,286.30 487.98,287.70 488.72,289.10 487.14,289.15 486.30,290.50 485.46,289.15 483.88,289.10 484.62,287.70 483.88,286.30 485.46,286.25" fill="#111" stroke="#111" stroke-width="0.5" stroke-linejoin="round"/>
<polygon points="503.60,285.30 504.44,286.65 506.02,286.70 505.28,288.10 506.02,289.50 504.44,289.55 503.60,290.90 502.76,289.55 501.18,289.50 501.92,288.10 501.18,286.70 502.76,286.65" fill="#111" stroke="#111" stroke-width="0.5" stroke-linejoin="round"/>
<polyline points="563.40,401.10 563.40,395.00 587.20,395.00 587.20,403.00" fill="none" stroke="#4a4a4a" stroke-width="1.3" stroke-linejoin="miter"/>
<polygon points="570.85,381.90 571.84,383.49 573.71,383.55 572.83,385.20 573.71,386.85 571.84,386.91 570.85,388.50 569.86,386.91 567.99,386.85 568.87,385.20 567.99,383.55 569.86,383.49" fill="#111" stroke="#111" stroke-width="0.5" stroke-linejoin="round"/>
<polygon points="579.75,381.90 580.74,383.49 582.61,383.55 581.73,385.20 582.61,386.85 580.74,386.91 579.75,388.50 578.76,386.91 576.89,386.85 577.77,385.20 576.89,383.55 578.76,383.49" fill="#111" stroke="#111" stroke-width="0.5" stroke-linejoin="round"/>
<rect x="579.50" y="290.00" width="15.30" height="4.20" fill="#050505"/>
<text x="603.76" y="295.31" font-family='"Liberation Sans", sans-serif' font-weight="normal" font-size="9.30" fill="#3a3a3a">Mock</text>
<rect x="579.50" y="302.90" width="15.30" height="4.20" fill="#0a0af0"/>
<text x="604.22" y="308.21" font-family='"Liberation Sans", sans-serif' font-weight="normal" font-size="9.30" fill="#3a3a3a">si NC+LPS</text>
<rect x="579.50" y="315.80" width="15.30" height="4.20" fill="#fb0007"/>
<text x="604.22" y="321.11" font-family='"Liberation Sans", sans-serif' font-weight="normal" font-size="9.30" fill="#3a3a3a">si circNFIC+LPS</text>
<text transform="translate(395.00,377.50) rotate(-90)" x="-79.97" y="4.35" font-family='"Liberation Sans", sans-serif' font-weight="bold" font-size="12.60" fill="#1e1e1e">Relative mRNA expression</text>
<text transform="translate(408.00,377.50) rotate(-90)" x="-59.53" y="4.36" font-family='"Liberation Sans", sans-serif' font-weight="bold" font-size="12.64" fill="#1e1e1e">(Normalize Mock=1)</text>
<text x="475.68" y="480.88" font-family='"Liberation Sans", sans-serif' font-weight="bold" font-size="11.83" fill="#1e1e1e">IL-1β</text>
<text x="576.58" y="479.57" font-family='"Liberation Sans", sans-serif' font-weight="bold" font-size="11.81" fill="#1e1e1e">TNFα</text>
<text x="704.27" y="287.61" font-family='"Liberation Serif", serif' font-weight="bold" font-size="28.51" fill="#0a0a0a" textLength="22.22" lengthAdjust="spacingAndGlyphs">G</text>
<line x1="805.30" y1="310.92" x2="805.30" y2="462.45" stroke="#1e1e1e" stroke-width="1.5"/>
<line x1="800.30" y1="461.70" x2="805.30" y2="461.70" stroke="#1e1e1e" stroke-width="1.5"/>
<text x="792.08" y="465.67" font-family='"Liberation Sans", sans-serif' font-weight="bold" font-size="11.50" fill="#1e1e1e">0</text>
<line x1="800.30" y1="411.44" x2="805.30" y2="411.44" stroke="#1e1e1e" stroke-width="1.5"/>
<text x="792.08" y="415.41" font-family='"Liberation Sans", sans-serif' font-weight="bold" font-size="11.50" fill="#1e1e1e">2</text>
<line x1="800.30" y1="361.18" x2="805.30" y2="361.18" stroke="#1e1e1e" stroke-width="1.5"/>
<text x="791.67" y="365.15" font-family='"Liberation Sans", sans-serif' font-weight="bold" font-size="11.50" fill="#1e1e1e">4</text>
<line x1="800.30" y1="310.92" x2="805.30" y2="310.92" stroke="#1e1e1e" stroke-width="1.5"/>
<text x="792.02" y="314.89" font-family='"Liberation Sans", sans-serif' font-weight="bold" font-size="11.50" fill="#1e1e1e">6</text>
<line x1="804.55" y1="461.70" x2="955.60" y2="461.70" stroke="#1e1e1e" stroke-width="1.5"/>
<line x1="840.30" y1="461.70" x2="840.30" y2="464.70" stroke="#1e1e1e" stroke-width="1.5"/>
<line x1="920.30" y1="461.70" x2="920.30" y2="464.70" stroke="#1e1e1e" stroke-width="1.5"/>
<rect x="816.00" y="436.57" width="19.10" height="25.13" fill="#050505"/>
<line x1="825.55" y1="436.57" x2="825.55" y2="432.30" stroke="#333" stroke-width="1.3"/>
<line x1="821.05" y1="432.30" x2="830.05" y2="432.30" stroke="#333" stroke-width="1.3"/>
<rect x="845.60" y="423.50" width="19.30" height="38.20" fill="#a2a1a6" stroke="#5a5a5e" stroke-width="1.0"/>
<line x1="855.25" y1="423.00" x2="855.25" y2="419.73" stroke="#333" stroke-width="1.3"/>
<line x1="850.75" y1="419.73" x2="859.75" y2="419.73" stroke="#333" stroke-width="1.3"/>
<rect x="895.70" y="436.57" width="19.30" height="25.13" fill="#050505"/>
<line x1="905.35" y1="436.57" x2="905.35" y2="435.56" stroke="#333" stroke-width="1.3"/>
<line x1="900.85" y1="435.56" x2="909.85" y2="435.56" stroke="#333" stroke-width="1.3"/>
<rect x="926.30" y="336.05" width="18.50" height="125.65" fill="#a2a1a6" stroke="#5a5a5e" stroke-width="1.0"/>
<line x1="935.55" y1="335.55" x2="935.55" y2="319.21" stroke="#333" stroke-width="1.3"/>
<line x1="931.05" y1="319.21" x2="940.05" y2="319.21" stroke="#333" stroke-width="1.3"/>
<polyline points="825.30,417.00 825.30,409.40 855.80,409.40 855.80,419.40" fill="none" stroke="#4a4a4a" stroke-width="1.3" stroke-linejoin="miter"/>
<polygon points="840.30,398.90 841.08,400.15 842.55,400.20 841.86,401.50 842.55,402.80 841.08,402.85 840.30,404.10 839.52,402.85 838.05,402.80 838.74,401.50 838.05,400.20 839.52,400.15" fill="#111" stroke="#111" stroke-width="0.5" stroke-linejoin="round"/>
<polyline points="905.20,315.60 905.20,308.50 936.30,308.50 936.30,318.00" fill="none" stroke="#4a4a4a" stroke-width="1.3" stroke-linejoin="miter"/>
<polygon points="917.40,298.20 918.18,299.45 919.65,299.50 918.96,300.80 919.65,302.10 918.18,302.15 917.40,303.40 916.62,302.15 915.15,302.10 915.84,300.80 915.15,299.50 916.62,299.45" fill="#111" stroke="#111" stroke-width="0.5" stroke-linejoin="round"/>
<polygon points="923.20,298.20 923.98,299.45 925.45,299.50 924.76,300.80 925.45,302.10 923.98,302.15 923.20,303.40 922.42,302.15 920.95,302.10 921.64,300.80 920.95,299.50 922.42,299.45" fill="#111" stroke="#111" stroke-width="0.5" stroke-linejoin="round"/>
<rect x="866.10" y="268.20" width="14.80" height="4.20" fill="#050505"/>
<text x="890.61" y="273.46" font-family='"Liberation Sans", sans-serif' font-weight="normal" font-size="9.15" fill="#3a3a3a">pCD25+LPS</text>
<rect x="866.60" y="280.60" width="13.80" height="3.20" fill="#a2a1a6" stroke="#5a5a5e" stroke-width="1.0"/>
<text x="890.83" y="285.36" font-family='"Liberation Sans", sans-serif' font-weight="normal" font-size="9.15" fill="#3a3a3a">ov circNFIC+LPS</text>
<text transform="translate(766.40,386.00) rotate(-90)" x="-74.77" y="4.06" font-family='"Liberation Sans", sans-serif' font-weight="bold" font-size="11.78" fill="#1e1e1e">Relative mRNA expression</text>
<text transform="translate(780.50,386.40) rotate(-90)" x="-71.87" y="3.95" font-family='"Liberation Sans", sans-serif' font-weight="bold" font-size="11.44" fill="#1e1e1e">(Normalize pCD25+LPS=1)</text>
<text x="814.44" y="477.06" font-family='"Liberation Sans", sans-serif' font-weight="bold" font-size="11.47" fill="#1e1e1e">caspase3</text>
<text x="894.44" y="477.05" font-family='"Liberation Sans", sans-serif' font-weight="bold" font-size="11.45" fill="#1e1e1e">caspase8</text>
<text x="1019.69" y="280.70" font-family='"Liberation Serif", serif' font-weight="bold" font-size="29.16" fill="#0a0a0a" textLength="21.40" lengthAdjust="spacingAndGlyphs">H</text>
<line x1="1090.60" y1="290.75" x2="1090.60" y2="454.55" stroke="#1e1e1e" stroke-width="1.5"/>
<line x1="1084.10" y1="453.80" x2="1090.60" y2="453.80" stroke="#1e1e1e" stroke-width="1.5"/>
<text x="1066.42" y="458.11" font-family='"Liberation Sans", sans-serif' font-weight="bold" font-size="12.50" fill="#1e1e1e">0.0</text>
<line x1="1084.10" y1="399.45" x2="1090.60" y2="399.45" stroke="#1e1e1e" stroke-width="1.5"/>
<text x="1066.24" y="403.76" font-family='"Liberation Sans", sans-serif' font-weight="bold" font-size="12.50" fill="#1e1e1e">0.5</text>
<line x1="1084.10" y1="345.10" x2="1090.60" y2="345.10" stroke="#1e1e1e" stroke-width="1.5"/>
<text x="1066.42" y="349.41" font-family='"Liberation Sans", sans-serif' font-weight="bold" font-size="12.50" fill="#1e1e1e">1.0</text>
<line x1="1084.10" y1="290.75" x2="1090.60" y2="290.75" stroke="#1e1e1e" stroke-width="1.5"/>
<text x="1066.24" y="295.06" font-family='"Liberation Sans", sans-serif' font-weight="bold" font-size="12.50" fill="#1e1e1e">1.5</text>
<line x1="1089.85" y1="453.80" x2="1254.40" y2="453.80" stroke="#1e1e1e" stroke-width="1.5"/>
<line x1="1112.40" y1="453.80" x2="1112.40" y2="456.80" stroke="#1e1e1e" stroke-width="1.5"/>
<line x1="1144.90" y1="453.80" x2="1144.90" y2="456.80" stroke="#1e1e1e" stroke-width="1.5"/>
<line x1="1199.20" y1="453.80" x2="1199.20" y2="456.80" stroke="#1e1e1e" stroke-width="1.5"/>
<line x1="1231.70" y1="453.80" x2="1231.70" y2="456.80" stroke="#1e1e1e" stroke-width="1.5"/>
<rect x="1101.80" y="345.10" width="21.20" height="108.70" fill="#050505"/>
<line x1="1112.40" y1="345.10" x2="1112.40" y2="327.06" stroke="#333" stroke-width="1.3"/>
<line x1="1107.90" y1="327.06" x2="1116.90" y2="327.06" stroke="#333" stroke-width="1.3"/>
<rect x="1134.70" y="399.95" width="20.40" height="53.85" fill="#a2a1a6" stroke="#5a5a5e" stroke-width="1.0"/>
<line x1="1144.90" y1="399.45" x2="1144.90" y2="395.21" stroke="#333" stroke-width="1.3"/>
<line x1="1140.40" y1="395.21" x2="1149.40" y2="395.21" stroke="#333" stroke-width="1.3"/>
<rect x="1188.50" y="345.10" width="21.40" height="108.70" fill="#050505"/>
<line x1="1199.20" y1="345.10" x2="1199.20" y2="331.19" stroke="#333" stroke-width="1.3"/>
<line x1="1194.70" y1="331.19" x2="1203.70" y2="331.19" stroke="#333" stroke-width="1.3"/>
<rect x="1221.50" y="394.95" width="20.50" height="58.85" fill="#a2a1a6" stroke="#5a5a5e" stroke-width="1.0"/>
<line x1="1231.75" y1="394.45" x2="1231.75" y2="391.30" stroke="#333" stroke-width="1.3"/>
<line x1="1227.25" y1="391.30" x2="1236.25" y2="391.30" stroke="#333" stroke-width="1.3"/>
<polyline points="1111.70,326.50 1111.70,318.40 1143.30,318.40 1143.30,326.50" fill="none" stroke="#4a4a4a" stroke-width="1.3" stroke-linejoin="miter"/>
<polygon points="1127.20,306.60 1127.98,307.85 1129.45,307.90 1128.76,309.20 1129.45,310.50 1127.98,310.55 1127.20,311.80 1126.42,310.55 1124.95,310.50 1125.64,309.20 1124.95,307.90 1126.42,307.85" fill="#111" stroke="#111" stroke-width="0.5" stroke-linejoin="round"/>
<polyline points="1198.80,330.70 1198.80,321.10 1229.70,321.10 1229.70,329.00" fill="none" stroke="#4a4a4a" stroke-width="1.3" stroke-linejoin="miter"/>
<polygon points="1214.10,309.80 1214.88,311.05 1216.35,311.10 1215.66,312.40 1216.35,313.70 1214.88,313.75 1214.10,315.00 1213.32,313.75 1211.85,313.70 1212.54,312.40 1211.85,311.10 1213.32,311.05" fill="#111" stroke="#111" stroke-width="0.5" stroke-linejoin="round"/>
<rect x="1174.90" y="275.80" width="17.30" height="4.20" fill="#050505"/>
<text x="1201.20" y="281.35" font-family='"Liberation Sans", sans-serif' font-weight="normal" font-size="10.00" fill="#3a3a3a">NC+LPS</text>
<rect x="1175.40" y="287.90" width="16.30" height="3.20" fill="#a2a1a6" stroke="#5a5a5e" stroke-width="1.0"/>
<text x="1201.70" y="292.95" font-family='"Liberation Sans", sans-serif' font-weight="normal" font-size="10.00" fill="#3a3a3a">si circNFIC+LPS</text>
<text transform="translate(1040.10,371.50) rotate(-90)" x="-70.47" y="3.83" font-family='"Liberation Sans", sans-serif' font-weight="bold" font-size="11.10" fill="#1e1e1e">Relative mRNA expression</text>
<text transform="translate(1055.70,372.00) rotate(-90)" x="-67.72" y="3.91" font-family='"Liberation Sans", sans-serif' font-weight="bold" font-size="11.33" fill="#1e1e1e">(Normalize si NC+LPS=1)</text>
<text x="1095.22" y="473.01" font-family='"Liberation Sans", sans-serif' font-weight="bold" font-size="13.37" fill="#1e1e1e">caspase 3</text>
<text x="1181.62" y="473.01" font-family='"Liberation Sans", sans-serif' font-weight="bold" font-size="13.35" fill="#1e1e1e">caspase 8</text>
<text x="24.35" y="554.20" font-family='"Liberation Serif", serif' font-weight="bold" font-size="28.70" fill="#0a0a0a" textLength="11.67" lengthAdjust="spacingAndGlyphs">I</text>
<text x="55.73" y="590.98" font-family='"Liberation Serif", serif' font-weight="normal" font-size="11.85" fill="#222">circNFIC-WT</text>
<text x="49.67" y="610.37" font-family='"Liberation Serif", serif' font-weight="normal" font-size="11.83" fill="#222">gga-miR-30e-3p</text>
<text x="51.03" y="635.82" font-family='"Liberation Serif", serif' font-weight="normal" font-size="11.67" fill="#222">circNFIC-MUT</text>
<text x="138.29" y="589.96" font-family='"Liberation Serif", serif' font-weight="normal" font-size="11.80" fill="#222" textLength="134.26" lengthAdjust="spacingAndGlyphs">5’ CAACCCGCAGGACCC</text>
<text x="272.28" y="589.96" font-family='"Liberation Serif", serif' font-weight="normal" font-size="11.80" fill="#d42a38" textLength="56.32" lengthAdjust="spacingAndGlyphs">ACTGAAA</text>
<text x="330.95" y="589.96" font-family='"Liberation Serif", serif' font-weight="normal" font-size="11.80" fill="#222" textLength="10.26" lengthAdjust="spacingAndGlyphs">3’</text>
<text x="143.47" y="610.96" font-family='"Liberation Serif", serif' font-weight="normal" font-size="11.80" fill="#222" textLength="128.32" lengthAdjust="spacingAndGlyphs">3’ CGACAUUUGUAGGC</text>
<text x="271.17" y="610.96" font-family='"Liberation Serif", serif' font-weight="normal" font-size="11.80" fill="#d42a38" textLength="58.37" lengthAdjust="spacingAndGlyphs">UGACUUU</text>
<text x="331.94" y="610.96" font-family='"Liberation Serif", serif' font-weight="normal" font-size="11.80" fill="#222" textLength="9.13" lengthAdjust="spacingAndGlyphs">5’</text>
<text x="137.49" y="634.76" font-family='"Liberation Serif", serif' font-weight="normal" font-size="11.80" fill="#222" textLength="134.36" lengthAdjust="spacingAndGlyphs">5’ CAACCCGCAGGACCC</text>
<text x="270.93" y="634.76" font-family='"Liberation Serif", serif' font-weight="normal" font-size="11.80" fill="#5f86c8" textLength="57.93" lengthAdjust="spacingAndGlyphs">CAGACCG</text>
<text x="330.95" y="634.76" font-family='"Liberation Serif", serif' font-weight="normal" font-size="11.80" fill="#222" textLength="10.26" lengthAdjust="spacingAndGlyphs">3’</text>
<line x1="276.50" y1="594.60" x2="276.50" y2="601.40" stroke="#333" stroke-width="1.1"/>
<line x1="284.20" y1="594.60" x2="284.20" y2="601.40" stroke="#333" stroke-width="1.1"/>
<line x1="292.40" y1="594.60" x2="292.40" y2="601.40" stroke="#333" stroke-width="1.1"/>
<line x1="300.60" y1="594.60" x2="300.60" y2="601.40" stroke="#333" stroke-width="1.1"/>
<line x1="308.80" y1="594.60" x2="308.80" y2="601.40" stroke="#333" stroke-width="1.1"/>
<line x1="317.00" y1="594.60" x2="317.00" y2="601.40" stroke="#333" stroke-width="1.1"/>
<line x1="325.60" y1="594.60" x2="325.60" y2="601.40" stroke="#333" stroke-width="1.1"/>
<polyline points="377.60,560.90 385.60,558.20 394.40,557.50 402.40,560.90 408.50,566.20 410.50,573.00 411.10,578.30 409.80,583.70 407.10,587.70 405.10,591.10 407.10,598.50 411.10,605.80 415.50,607.00 419.20,609.20 421.90,614.60 425.50,617.00 428.60,617.90 433.50,616.20 438.00,615.90 441.00,618.50 443.40,621.30 445.40,624.00 451.52,626.01 457.65,628.02 463.77,630.04 469.90,632.05 476.02,634.06 482.15,636.08 488.27,638.09 494.40,640.10" fill="none" stroke="#45c045" stroke-width="0.8" stroke-linejoin="miter"/>
<polyline points="386.30,594.20 391.50,594.30 397.00,594.40 398.60,601.40 401.10,608.00 399.30,612.50 399.10,617.20 400.60,621.50 403.10,625.30 407.00,628.00 411.10,628.70 415.50,627.50 419.20,624.60 422.60,625.20 425.90,626.60 429.50,630.00 432.60,633.40 437.50,632.60 442.00,632.00 448.21,634.01 454.43,636.02 460.64,638.04 466.85,640.05 473.06,642.06 479.27,644.08 485.49,646.09 491.70,648.10 495.70,654.20" fill="none" stroke="#e04558" stroke-width="0.8" stroke-linejoin="miter"/>
<circle cx="377.6" cy="560.9" r="1.5" fill="#fff" fill-opacity="0.6" stroke="#45c045" stroke-width="0.7"/>
<circle cx="385.6" cy="558.2" r="1.5" fill="#fff" fill-opacity="0.6" stroke="#45c045" stroke-width="0.7"/>
<circle cx="394.4" cy="557.5" r="1.5" fill="#fff" fill-opacity="0.6" stroke="#45c045" stroke-width="0.7"/>
<circle cx="402.4" cy="560.9" r="1.5" fill="#fff" fill-opacity="0.6" stroke="#45c045" stroke-width="0.7"/>
<circle cx="408.5" cy="566.2" r="1.5" fill="#fff" fill-opacity="0.6" stroke="#45c045" stroke-width="0.7"/>
<circle cx="410.5" cy="573.0" r="1.5" fill="#fff" fill-opacity="0.6" stroke="#45c045" stroke-width="0.7"/>
<circle cx="411.1" cy="578.3" r="1.5" fill="#fff" fill-opacity="0.6" stroke="#45c045" stroke-width="0.7"/>
<circle cx="409.8" cy="583.7" r="1.5" fill="#fff" fill-opacity="0.6" stroke="#45c045" stroke-width="0.7"/>
<circle cx="407.1" cy="587.7" r="1.5" fill="#fff" fill-opacity="0.6" stroke="#45c045" stroke-width="0.7"/>
<circle cx="405.1" cy="591.1" r="1.5" fill="#fff" fill-opacity="0.6" stroke="#45c045" stroke-width="0.7"/>
<circle cx="407.1" cy="598.5" r="1.5" fill="#fff" fill-opacity="0.6" stroke="#45c045" stroke-width="0.7"/>
<circle cx="411.1" cy="605.8" r="1.5" fill="#fff" fill-opacity="0.6" stroke="#45c045" stroke-width="0.7"/>
<circle cx="415.5" cy="607.0" r="1.5" fill="#fff" fill-opacity="0.6" stroke="#45c045" stroke-width="0.7"/>
<circle cx="419.2" cy="609.2" r="1.5" fill="#fff" fill-opacity="0.6" stroke="#45c045" stroke-width="0.7"/>
<circle cx="421.9" cy="614.6" r="1.5" fill="#fff" fill-opacity="0.6" stroke="#45c045" stroke-width="0.7"/>
<circle cx="425.5" cy="617.0" r="1.5" fill="#fff" fill-opacity="0.6" stroke="#45c045" stroke-width="0.7"/>
<circle cx="428.6" cy="617.9" r="1.5" fill="#fff" fill-opacity="0.6" stroke="#45c045" stroke-width="0.7"/>
<circle cx="433.5" cy="616.2" r="1.5" fill="#fff" fill-opacity="0.6" stroke="#45c045" stroke-width="0.7"/>
<circle cx="438.0" cy="615.9" r="1.5" fill="#fff" fill-opacity="0.6" stroke="#45c045" stroke-width="0.7"/>
<circle cx="441.0" cy="618.5" r="1.5" fill="#fff" fill-opacity="0.6" stroke="#45c045" stroke-width="0.7"/>
<circle cx="443.4" cy="621.3" r="1.5" fill="#fff" fill-opacity="0.6" stroke="#45c045" stroke-width="0.7"/>
<circle cx="445.4" cy="624.0" r="1.5" fill="#fff" fill-opacity="0.6" stroke="#45c045" stroke-width="0.7"/>
<circle cx="451.5" cy="626.0" r="1.5" fill="#fff" fill-opacity="0.6" stroke="#45c045" stroke-width="0.7"/>
<circle cx="457.6" cy="628.0" r="1.5" fill="#fff" fill-opacity="0.6" stroke="#45c045" stroke-width="0.7"/>
<circle cx="463.8" cy="630.0" r="1.5" fill="#fff" fill-opacity="0.6" stroke="#45c045" stroke-width="0.7"/>
<circle cx="469.9" cy="632.0" r="1.5" fill="#fff" fill-opacity="0.6" stroke="#45c045" stroke-width="0.7"/>
<circle cx="476.0" cy="634.1" r="1.5" fill="#fff" fill-opacity="0.6" stroke="#45c045" stroke-width="0.7"/>
<circle cx="482.1" cy="636.1" r="1.5" fill="#fff" fill-opacity="0.6" stroke="#45c045" stroke-width="0.7"/>
<circle cx="488.3" cy="638.1" r="1.5" fill="#fff" fill-opacity="0.6" stroke="#45c045" stroke-width="0.7"/>
<circle cx="494.4" cy="640.1" r="1.5" fill="#fff" fill-opacity="0.6" stroke="#45c045" stroke-width="0.7"/>
<circle cx="386.3" cy="594.2" r="1.5" fill="#fff" fill-opacity="0.6" stroke="#e04558" stroke-width="0.7"/>
<circle cx="391.5" cy="594.3" r="1.5" fill="#fff" fill-opacity="0.6" stroke="#e04558" stroke-width="0.7"/>
<circle cx="397.0" cy="594.4" r="1.5" fill="#fff" fill-opacity="0.6" stroke="#e04558" stroke-width="0.7"/>
<circle cx="398.6" cy="601.4" r="1.5" fill="#fff" fill-opacity="0.6" stroke="#e04558" stroke-width="0.7"/>
<circle cx="401.1" cy="608.0" r="1.5" fill="#fff" fill-opacity="0.6" stroke="#e04558" stroke-width="0.7"/>
<circle cx="399.3" cy="612.5" r="1.5" fill="#fff" fill-opacity="0.6" stroke="#e04558" stroke-width="0.7"/>
<circle cx="399.1" cy="617.2" r="1.5" fill="#fff" fill-opacity="0.6" stroke="#e04558" stroke-width="0.7"/>
<circle cx="400.6" cy="621.5" r="1.5" fill="#fff" fill-opacity="0.6" stroke="#e04558" stroke-width="0.7"/>
<circle cx="403.1" cy="625.3" r="1.5" fill="#fff" fill-opacity="0.6" stroke="#e04558" stroke-width="0.7"/>
<circle cx="407.0" cy="628.0" r="1.5" fill="#fff" fill-opacity="0.6" stroke="#e04558" stroke-width="0.7"/>
<circle cx="411.1" cy="628.7" r="1.5" fill="#fff" fill-opacity="0.6" stroke="#e04558" stroke-width="0.7"/>
<circle cx="415.5" cy="627.5" r="1.5" fill="#fff" fill-opacity="0.6" stroke="#e04558" stroke-width="0.7"/>
<circle cx="419.2" cy="624.6" r="1.5" fill="#fff" fill-opacity="0.6" stroke="#e04558" stroke-width="0.7"/>
<circle cx="422.6" cy="625.2" r="1.5" fill="#fff" fill-opacity="0.6" stroke="#e04558" stroke-width="0.7"/>
<circle cx="425.9" cy="626.6" r="1.5" fill="#fff" fill-opacity="0.6" stroke="#e04558" stroke-width="0.7"/>
<circle cx="429.5" cy="630.0" r="1.5" fill="#fff" fill-opacity="0.6" stroke="#e04558" stroke-width="0.7"/>
<circle cx="432.6" cy="633.4" r="1.5" fill="#fff" fill-opacity="0.6" stroke="#e04558" stroke-width="0.7"/>
<circle cx="437.5" cy="632.6" r="1.5" fill="#fff" fill-opacity="0.6" stroke="#e04558" stroke-width="0.7"/>
<circle cx="442.0" cy="632.0" r="1.5" fill="#fff" fill-opacity="0.6" stroke="#e04558" stroke-width="0.7"/>
<circle cx="448.2" cy="634.0" r="1.5" fill="#fff" fill-opacity="0.6" stroke="#e04558" stroke-width="0.7"/>
<circle cx="454.4" cy="636.0" r="1.5" fill="#fff" fill-opacity="0.6" stroke="#e04558" stroke-width="0.7"/>
<circle cx="460.6" cy="638.0" r="1.5" fill="#fff" fill-opacity="0.6" stroke="#e04558" stroke-width="0.7"/>
<circle cx="466.9" cy="640.0" r="1.5" fill="#fff" fill-opacity="0.6" stroke="#e04558" stroke-width="0.7"/>
<circle cx="473.1" cy="642.1" r="1.5" fill="#fff" fill-opacity="0.6" stroke="#e04558" stroke-width="0.7"/>
<circle cx="479.3" cy="644.1" r="1.5" fill="#fff" fill-opacity="0.6" stroke="#e04558" stroke-width="0.7"/>
<circle cx="485.5" cy="646.1" r="1.5" fill="#fff" fill-opacity="0.6" stroke="#e04558" stroke-width="0.7"/>
<circle cx="491.7" cy="648.1" r="1.5" fill="#fff" fill-opacity="0.6" stroke="#e04558" stroke-width="0.7"/>
<circle cx="495.7" cy="654.2" r="1.5" fill="#fff" fill-opacity="0.6" stroke="#e04558" stroke-width="0.7"/>
<line x1="405.10" y1="591.10" x2="397.00" y2="594.40" stroke="#2a2a2a" stroke-width="0.9"/>
<line x1="407.10" y1="598.50" x2="398.60" y2="601.40" stroke="#2a2a2a" stroke-width="0.9"/>
<line x1="411.10" y1="605.80" x2="401.10" y2="608.00" stroke="#2a2a2a" stroke-width="0.9"/>
<line x1="423.20" y1="616.60" x2="420.50" y2="624.20" stroke="#2a2a2a" stroke-width="0.9"/>
<line x1="428.00" y1="618.00" x2="426.50" y2="626.80" stroke="#2a2a2a" stroke-width="0.9"/>
<line x1="451.52" y1="626.01" x2="448.21" y2="634.01" stroke="#2a2a2a" stroke-width="0.9"/>
<line x1="457.65" y1="628.02" x2="454.43" y2="636.02" stroke="#2a2a2a" stroke-width="0.9"/>
<line x1="463.77" y1="630.04" x2="460.64" y2="638.04" stroke="#2a2a2a" stroke-width="0.9"/>
<line x1="469.90" y1="632.05" x2="466.85" y2="640.05" stroke="#2a2a2a" stroke-width="0.9"/>
<line x1="476.02" y1="634.06" x2="473.06" y2="642.06" stroke="#2a2a2a" stroke-width="0.9"/>
<line x1="482.15" y1="636.08" x2="479.27" y2="644.08" stroke="#2a2a2a" stroke-width="0.9"/>
<line x1="488.27" y1="638.09" x2="485.49" y2="646.09" stroke="#2a2a2a" stroke-width="0.9"/>
<line x1="494.40" y1="640.10" x2="491.70" y2="648.10" stroke="#2a2a2a" stroke-width="0.9"/>
<text x="376.45" y="594.21" font-family='"Liberation Sans", sans-serif' font-weight="normal" font-size="6.50" fill="#222">5’</text>
<text x="347.71" y="649.44" font-family='"Liberation Mono", monospace' font-weight="normal" font-size="5.71" fill="#333">mfe: -16.7 kcal/mol</text>
<text x="582.76" y="553.52" font-family='"Liberation Serif", serif' font-weight="bold" font-size="28.27" fill="#0a0a0a" textLength="14.88" lengthAdjust="spacingAndGlyphs">J</text>
<line x1="668.60" y1="577.95" x2="668.60" y2="666.15" stroke="#1e1e1e" stroke-width="1.5"/>
<line x1="668.60" y1="677.95" x2="668.60" y2="750.25" stroke="#1e1e1e" stroke-width="1.5"/>
<line x1="668.60" y1="665.40" x2="673.10" y2="665.40" stroke="#1e1e1e" stroke-width="1.5"/>
<line x1="668.60" y1="678.70" x2="673.10" y2="678.70" stroke="#1e1e1e" stroke-width="1.5"/>
<line x1="661.60" y1="578.70" x2="668.60" y2="578.70" stroke="#1e1e1e" stroke-width="1.5"/>
<text x="646.02" y="583.01" font-family='"Liberation Sans", sans-serif' font-weight="bold" font-size="12.50" fill="#1e1e1e">40</text>
<line x1="661.60" y1="600.38" x2="668.60" y2="600.38" stroke="#1e1e1e" stroke-width="1.5"/>
<text x="645.84" y="604.69" font-family='"Liberation Sans", sans-serif' font-weight="bold" font-size="12.50" fill="#1e1e1e">35</text>
<line x1="661.60" y1="622.05" x2="668.60" y2="622.05" stroke="#1e1e1e" stroke-width="1.5"/>
<text x="646.02" y="626.36" font-family='"Liberation Sans", sans-serif' font-weight="bold" font-size="12.50" fill="#1e1e1e">30</text>
<line x1="661.60" y1="643.73" x2="668.60" y2="643.73" stroke="#1e1e1e" stroke-width="1.5"/>
<text x="645.84" y="648.04" font-family='"Liberation Sans", sans-serif' font-weight="bold" font-size="12.50" fill="#1e1e1e">25</text>
<line x1="661.60" y1="665.40" x2="668.60" y2="665.40" stroke="#1e1e1e" stroke-width="1.5"/>
<text x="646.02" y="669.71" font-family='"Liberation Sans", sans-serif' font-weight="bold" font-size="12.50" fill="#1e1e1e">20</text>
<line x1="661.60" y1="678.70" x2="668.60" y2="678.70" stroke="#1e1e1e" stroke-width="1.5"/>
<text x="652.96" y="683.01" font-family='"Liberation Sans", sans-serif' font-weight="bold" font-size="12.50" fill="#1e1e1e">2</text>
<line x1="661.60" y1="714.10" x2="668.60" y2="714.10" stroke="#1e1e1e" stroke-width="1.5"/>
<text x="652.77" y="718.41" font-family='"Liberation Sans", sans-serif' font-weight="bold" font-size="12.50" fill="#1e1e1e">1</text>
<line x1="661.60" y1="749.50" x2="668.60" y2="749.50" stroke="#1e1e1e" stroke-width="1.5"/>
<text x="652.96" y="753.81" font-family='"Liberation Sans", sans-serif' font-weight="bold" font-size="12.50" fill="#1e1e1e">0</text>
<line x1="667.85" y1="749.50" x2="869.00" y2="749.50" stroke="#1e1e1e" stroke-width="1.5"/>
<line x1="769.20" y1="749.50" x2="769.20" y2="754.50" stroke="#1e1e1e" stroke-width="1.5"/>
<rect x="684.80" y="714.10" width="30.30" height="35.40" fill="#050505"/>
<line x1="699.90" y1="714.10" x2="699.90" y2="710.56" stroke="#333" stroke-width="1.3"/>
<line x1="693.90" y1="710.56" x2="705.90" y2="710.56" stroke="#333" stroke-width="1.3"/>
<rect x="730.70" y="678.70" width="30.00" height="70.80" fill="#fb0007"/>
<rect x="730.70" y="624.65" width="30.00" height="40.75" fill="#fb0007"/>
<line x1="745.70" y1="624.65" x2="745.70" y2="595.17" stroke="#333" stroke-width="1.3"/>
<line x1="738.70" y1="595.17" x2="752.70" y2="595.17" stroke="#333" stroke-width="1.3"/>
<rect x="776.90" y="714.10" width="29.70" height="35.40" fill="#050505"/>
<line x1="791.70" y1="714.10" x2="791.70" y2="710.56" stroke="#333" stroke-width="1.3"/>
<line x1="785.70" y1="710.56" x2="797.70" y2="710.56" stroke="#333" stroke-width="1.3"/>
<rect x="823.00" y="745.78" width="29.80" height="3.72" fill="#14148c"/>
<line x1="837.90" y1="745.78" x2="837.90" y2="744.90" stroke="#14148c" stroke-width="1.3"/>
<line x1="831.90" y1="744.90" x2="843.90" y2="744.90" stroke="#14148c" stroke-width="1.3"/>
<polyline points="700.30,591.40 700.30,582.90 745.70,582.90 745.70,595.10" fill="none" stroke="#4a4a4a" stroke-width="1.3" stroke-linejoin="miter"/>
<polygon points="719.35,571.20 720.13,572.45 721.60,572.50 720.91,573.80 721.60,575.10 720.13,575.15 719.35,576.40 718.57,575.15 717.10,575.10 717.79,573.80 717.10,572.50 718.57,572.45" fill="#111" stroke="#111" stroke-width="0.5" stroke-linejoin="round"/>
<polygon points="726.65,571.20 727.43,572.45 728.90,572.50 728.21,573.80 728.90,575.10 727.43,575.15 726.65,576.40 725.87,575.15 724.40,575.10 725.09,573.80 724.40,572.50 725.87,572.45" fill="#111" stroke="#111" stroke-width="0.5" stroke-linejoin="round"/>
<polyline points="791.00,699.10 791.00,690.00 836.40,690.00 836.40,699.10" fill="none" stroke="#4a4a4a" stroke-width="1.3" stroke-linejoin="miter"/>
<polygon points="806.20,678.40 806.98,679.65 808.45,679.70 807.76,681.00 808.45,682.30 806.98,682.35 806.20,683.60 805.42,682.35 803.95,682.30 804.64,681.00 803.95,679.70 805.42,679.65" fill="#111" stroke="#111" stroke-width="0.5" stroke-linejoin="round"/>
<polygon points="813.10,678.40 813.88,679.65 815.35,679.70 814.66,681.00 815.35,682.30 813.88,682.35 813.10,683.60 812.32,682.35 810.85,682.30 811.54,681.00 810.85,679.70 812.32,679.65" fill="#111" stroke="#111" stroke-width="0.5" stroke-linejoin="round"/>
<polygon points="820.00,678.40 820.78,679.65 822.25,679.70 821.56,681.00 822.25,682.30 820.78,682.35 820.00,683.60 819.22,682.35 817.75,682.30 818.44,681.00 817.75,679.70 819.22,679.65" fill="#111" stroke="#111" stroke-width="0.5" stroke-linejoin="round"/>
<rect x="795.80" y="536.90" width="17.30" height="4.80" fill="#050505"/>
<text x="823.53" y="542.85" font-family='"Liberation Sans", sans-serif' font-weight="normal" font-size="10.30" fill="#3a3a3a">mimic NC</text>
<rect x="795.80" y="551.60" width="17.30" height="4.80" fill="#fb0007"/>
<text x="823.53" y="557.55" font-family='"Liberation Sans", sans-serif' font-weight="normal" font-size="10.30" fill="#3a3a3a">miR-30e-3p mimic</text>
<rect x="795.80" y="566.30" width="17.30" height="4.80" fill="#050505"/>
<text x="823.53" y="572.25" font-family='"Liberation Sans", sans-serif' font-weight="normal" font-size="10.30" fill="#3a3a3a">inhibitor NC</text>
<rect x="795.80" y="580.80" width="17.30" height="4.80" fill="#14148c"/>
<text x="823.53" y="586.75" font-family='"Liberation Sans", sans-serif' font-weight="normal" font-size="10.30" fill="#3a3a3a">miR-30e-3p inhibitor</text>
<text transform="translate(633.80,663.80) rotate(-90)" x="-78.06" y="4.56" font-family='"Liberation Sans", sans-serif' font-weight="bold" font-size="13.22" fill="#1e1e1e">Relative RNA expression</text>
<text x="733.34" y="771.07" font-family='"Liberation Sans", sans-serif' font-weight="bold" font-size="13.25" fill="#1e1e1e">miR-30e-3p</text>
<text x="961.79" y="554.00" font-family='"Liberation Serif", serif' font-weight="bold" font-size="29.31" fill="#0a0a0a" textLength="21.43" lengthAdjust="spacingAndGlyphs">K</text>
<line x1="1054.40" y1="560.00" x2="1054.40" y2="756.65" stroke="#1e1e1e" stroke-width="1.5"/>
<line x1="1046.40" y1="755.90" x2="1054.40" y2="755.90" stroke="#1e1e1e" stroke-width="1.5"/>
<text x="1024.85" y="761.07" font-family='"Liberation Sans", sans-serif' font-weight="bold" font-size="15.00" fill="#1e1e1e">0.0</text>
<line x1="1046.40" y1="690.60" x2="1054.40" y2="690.60" stroke="#1e1e1e" stroke-width="1.5"/>
<text x="1024.62" y="695.77" font-family='"Liberation Sans", sans-serif' font-weight="bold" font-size="15.00" fill="#1e1e1e">0.5</text>
<line x1="1046.40" y1="625.30" x2="1054.40" y2="625.30" stroke="#1e1e1e" stroke-width="1.5"/>
<text x="1024.85" y="630.47" font-family='"Liberation Sans", sans-serif' font-weight="bold" font-size="15.00" fill="#1e1e1e">1.0</text>
<line x1="1046.40" y1="560.00" x2="1054.40" y2="560.00" stroke="#1e1e1e" stroke-width="1.5"/>
<text x="1024.62" y="565.17" font-family='"Liberation Sans", sans-serif' font-weight="bold" font-size="15.00" fill="#1e1e1e">1.5</text>
<line x1="1053.65" y1="755.90" x2="1275.10" y2="755.90" stroke="#1e1e1e" stroke-width="1.5"/>
<line x1="1164.90" y1="755.90" x2="1164.90" y2="760.90" stroke="#1e1e1e" stroke-width="1.5"/>
<rect x="1072.50" y="625.30" width="32.90" height="130.60" fill="#050505"/>
<line x1="1088.95" y1="625.30" x2="1088.95" y2="616.16" stroke="#333" stroke-width="1.3"/>
<line x1="1081.45" y1="616.16" x2="1096.45" y2="616.16" stroke="#333" stroke-width="1.3"/>
<rect x="1123.50" y="675.32" width="32.90" height="80.58" fill="#fb0007"/>
<line x1="1139.95" y1="675.32" x2="1139.95" y2="666.57" stroke="#333" stroke-width="1.3"/>
<line x1="1132.45" y1="666.57" x2="1147.45" y2="666.57" stroke="#333" stroke-width="1.3"/>
<rect x="1174.50" y="625.30" width="33.00" height="130.60" fill="#050505"/>
<line x1="1191.00" y1="625.30" x2="1191.00" y2="622.43" stroke="#333" stroke-width="1.3"/>
<line x1="1183.50" y1="622.43" x2="1198.50" y2="622.43" stroke="#333" stroke-width="1.3"/>
<rect x="1225.00" y="607.02" width="33.20" height="148.88" fill="#0a0af0"/>
<line x1="1241.60" y1="607.02" x2="1241.60" y2="602.71" stroke="#333" stroke-width="1.3"/>
<line x1="1234.10" y1="602.71" x2="1249.10" y2="602.71" stroke="#333" stroke-width="1.3"/>
<polyline points="1087.90,616.30 1087.90,608.10 1141.00,608.10 1141.00,618.30" fill="none" stroke="#4a4a4a" stroke-width="1.3" stroke-linejoin="miter"/>
<polygon points="1109.00,594.40 1109.90,595.84 1111.60,595.90 1110.80,597.40 1111.60,598.90 1109.90,598.96 1109.00,600.40 1108.10,598.96 1106.40,598.90 1107.20,597.40 1106.40,595.90 1108.10,595.84" fill="#111" stroke="#111" stroke-width="0.5" stroke-linejoin="round"/>
<polygon points="1118.40,594.40 1119.30,595.84 1121.00,595.90 1120.20,597.40 1121.00,598.90 1119.30,598.96 1118.40,600.40 1117.50,598.96 1115.80,598.90 1116.60,597.40 1115.80,595.90 1117.50,595.84" fill="#111" stroke="#111" stroke-width="0.5" stroke-linejoin="round"/>
<polyline points="1187.60,600.20 1187.60,590.60 1240.70,590.60 1240.70,602.30" fill="none" stroke="#4a4a4a" stroke-width="1.3" stroke-linejoin="miter"/>
<polygon points="1213.90,576.80 1214.80,578.24 1216.50,578.30 1215.70,579.80 1216.50,581.30 1214.80,581.36 1213.90,582.80 1213.00,581.36 1211.30,581.30 1212.10,579.80 1211.30,578.30 1213.00,578.24" fill="#111" stroke="#111" stroke-width="0.5" stroke-linejoin="round"/>
<rect x="1170.10" y="508.55" width="20.40" height="5.50" fill="#050505"/>
<text x="1201.43" y="515.37" font-family='"Liberation Sans", sans-serif' font-weight="normal" font-size="11.80" fill="#3a3a3a">mimic NC</text>
<rect x="1170.10" y="525.15" width="20.40" height="5.50" fill="#fb0007"/>
<text x="1201.43" y="531.97" font-family='"Liberation Sans", sans-serif' font-weight="normal" font-size="11.80" fill="#3a3a3a">miR-30e-3p mimic</text>
<rect x="1170.10" y="541.75" width="20.40" height="5.50" fill="#050505"/>
<text x="1201.43" y="548.57" font-family='"Liberation Sans", sans-serif' font-weight="normal" font-size="11.80" fill="#3a3a3a">inhibitor NC</text>
<rect x="1170.10" y="557.85" width="20.40" height="5.50" fill="#0a0af0"/>
<text x="1201.43" y="564.67" font-family='"Liberation Sans", sans-serif' font-weight="normal" font-size="11.80" fill="#3a3a3a">miR-30e-3p inhibitor</text>
<text transform="translate(1009.80,657.60) rotate(-90)" x="-89.94" y="5.26" font-family='"Liberation Sans", sans-serif' font-weight="bold" font-size="15.24" fill="#1e1e1e">Relative RNA expression</text>
<text x="1134.46" y="780.79" font-family='"Liberation Sans", sans-serif' font-weight="bold" font-size="14.76" fill="#1e1e1e">circNFIC</text>
<text x="24.68" y="877.80" font-family='"Liberation Serif", serif' font-weight="bold" font-size="29.01" fill="#0a0a0a" textLength="18.48" lengthAdjust="spacingAndGlyphs">L</text>
<line x1="123.80" y1="871.45" x2="123.80" y2="952.85" stroke="#1e1e1e" stroke-width="1.5"/>
<line x1="123.80" y1="963.95" x2="123.80" y2="1045.35" stroke="#1e1e1e" stroke-width="1.5"/>
<line x1="123.80" y1="952.10" x2="128.30" y2="952.10" stroke="#1e1e1e" stroke-width="1.5"/>
<line x1="123.80" y1="964.70" x2="128.30" y2="964.70" stroke="#1e1e1e" stroke-width="1.5"/>
<line x1="117.30" y1="872.00" x2="123.80" y2="872.00" stroke="#1e1e1e" stroke-width="1.5"/>
<text x="75.95" y="876.35" font-family='"Liberation Sans", sans-serif' font-weight="bold" font-size="12.60" fill="#1e1e1e">20,000</text>
<line x1="117.30" y1="912.05" x2="123.80" y2="912.05" stroke="#1e1e1e" stroke-width="1.5"/>
<text x="75.95" y="916.40" font-family='"Liberation Sans", sans-serif' font-weight="bold" font-size="12.60" fill="#1e1e1e">15,000</text>
<line x1="117.30" y1="952.10" x2="123.80" y2="952.10" stroke="#1e1e1e" stroke-width="1.5"/>
<text x="75.95" y="956.45" font-family='"Liberation Sans", sans-serif' font-weight="bold" font-size="12.60" fill="#1e1e1e">10,000</text>
<line x1="117.30" y1="964.70" x2="123.80" y2="964.70" stroke="#1e1e1e" stroke-width="1.5"/>
<text x="96.99" y="969.05" font-family='"Liberation Sans", sans-serif' font-weight="bold" font-size="12.60" fill="#1e1e1e">2.0</text>
<line x1="117.30" y1="984.67" x2="123.80" y2="984.67" stroke="#1e1e1e" stroke-width="1.5"/>
<text x="96.80" y="989.02" font-family='"Liberation Sans", sans-serif' font-weight="bold" font-size="12.60" fill="#1e1e1e">1.5</text>
<line x1="117.30" y1="1004.65" x2="123.80" y2="1004.65" stroke="#1e1e1e" stroke-width="1.5"/>
<text x="96.99" y="1009.00" font-family='"Liberation Sans", sans-serif' font-weight="bold" font-size="12.60" fill="#1e1e1e">1.0</text>
<line x1="117.30" y1="1024.62" x2="123.80" y2="1024.62" stroke="#1e1e1e" stroke-width="1.5"/>
<text x="96.80" y="1028.97" font-family='"Liberation Sans", sans-serif' font-weight="bold" font-size="12.60" fill="#1e1e1e">0.5</text>
<line x1="117.30" y1="1044.60" x2="123.80" y2="1044.60" stroke="#1e1e1e" stroke-width="1.5"/>
<text x="96.99" y="1048.95" font-family='"Liberation Sans", sans-serif' font-weight="bold" font-size="12.60" fill="#1e1e1e">0.0</text>
<line x1="123.05" y1="1044.60" x2="287.80" y2="1044.60" stroke="#1e1e1e" stroke-width="1.5"/>
<line x1="156.80" y1="1044.60" x2="156.80" y2="1047.60" stroke="#1e1e1e" stroke-width="1.5"/>
<line x1="205.70" y1="1044.60" x2="205.70" y2="1047.60" stroke="#1e1e1e" stroke-width="1.5"/>
<line x1="255.30" y1="1044.60" x2="255.30" y2="1047.60" stroke="#1e1e1e" stroke-width="1.5"/>
<rect x="141.10" y="1004.65" width="31.90" height="39.95" fill="#050505"/>
<line x1="157.00" y1="1004.65" x2="157.00" y2="999.46" stroke="#333" stroke-width="1.3"/>
<line x1="149.50" y1="999.46" x2="164.50" y2="999.46" stroke="#333" stroke-width="1.3"/>
<rect x="190.30" y="964.70" width="31.90" height="79.90" fill="#fb0007"/>
<rect x="190.30" y="912.05" width="31.90" height="40.05" fill="#fb0007"/>
<line x1="206.25" y1="912.05" x2="206.25" y2="905.64" stroke="#333" stroke-width="1.3"/>
<line x1="198.75" y1="905.64" x2="213.75" y2="905.64" stroke="#333" stroke-width="1.3"/>
<rect x="239.50" y="964.70" width="31.90" height="79.90" fill="#0a0af0"/>
<rect x="239.50" y="944.49" width="31.90" height="7.61" fill="#0a0af0"/>
<line x1="255.45" y1="944.49" x2="255.45" y2="938.72" stroke="#333" stroke-width="1.3"/>
<line x1="247.95" y1="938.72" x2="262.95" y2="938.72" stroke="#333" stroke-width="1.3"/>
<polyline points="156.60,902.90 156.60,894.90 254.00,894.90 254.00,902.90" fill="none" stroke="#4a4a4a" stroke-width="1.3" stroke-linejoin="miter"/>
<line x1="205.80" y1="894.90" x2="205.80" y2="904.40" stroke="#4a4a4a" stroke-width="1.1"/>
<polygon points="173.60,882.90 174.38,884.15 175.85,884.20 175.16,885.50 175.85,886.80 174.38,886.85 173.60,888.10 172.82,886.85 171.35,886.80 172.04,885.50 171.35,884.20 172.82,884.15" fill="#111" stroke="#111" stroke-width="0.5" stroke-linejoin="round"/>
<polygon points="180.90,882.90 181.68,884.15 183.15,884.20 182.46,885.50 183.15,886.80 181.68,886.85 180.90,888.10 180.12,886.85 178.65,886.80 179.34,885.50 178.65,884.20 180.12,884.15" fill="#111" stroke="#111" stroke-width="0.5" stroke-linejoin="round"/>
<polygon points="188.20,882.90 188.98,884.15 190.45,884.20 189.76,885.50 190.45,886.80 188.98,886.85 188.20,888.10 187.42,886.85 185.95,886.80 186.64,885.50 185.95,884.20 187.42,884.15" fill="#111" stroke="#111" stroke-width="0.5" stroke-linejoin="round"/>
<polygon points="230.50,882.90 231.28,884.15 232.75,884.20 232.06,885.50 232.75,886.80 231.28,886.85 230.50,888.10 229.72,886.85 228.25,886.80 228.94,885.50 228.25,884.20 229.72,884.15" fill="#111" stroke="#111" stroke-width="0.5" stroke-linejoin="round"/>
<rect x="179.90" y="825.00" width="17.60" height="4.80" fill="#050505"/>
<text x="207.51" y="831.07" font-family='"Liberation Sans", sans-serif' font-weight="normal" font-size="10.65" fill="#3a3a3a">pCD25+mimic NC</text>
<rect x="179.90" y="841.70" width="17.60" height="4.80" fill="#fb0007"/>
<text x="207.77" y="847.77" font-family='"Liberation Sans", sans-serif' font-weight="normal" font-size="10.65" fill="#3a3a3a">ov circNFIC+mimic NC</text>
<rect x="179.90" y="857.30" width="17.60" height="4.80" fill="#0a0af0"/>
<text x="207.77" y="863.37" font-family='"Liberation Sans", sans-serif' font-weight="normal" font-size="10.65" fill="#3a3a3a">ov circNFIC+miR-30e-3p mimic</text>
<text transform="translate(51.30,957.80) rotate(-90)" x="-63.60" y="3.72" font-family='"Liberation Sans", sans-serif' font-weight="bold" font-size="10.78" fill="#1e1e1e">Relative RNA expression</text>
<text transform="translate(64.10,957.70) rotate(-90)" x="-80.03" y="3.63" font-family='"Liberation Sans", sans-serif' font-weight="bold" font-size="10.51" fill="#1e1e1e">(Normalize pCD25+mimic NC=1)</text>
<text x="177.20" y="1067.28" font-family='"Liberation Sans", sans-serif' font-weight="bold" font-size="13.87" fill="#1e1e1e">circNFIC</text>
<text x="372.19" y="878.90" font-family='"Liberation Serif", serif' font-weight="bold" font-size="28.70" fill="#0a0a0a" textLength="25.90" lengthAdjust="spacingAndGlyphs">M</text>
<line x1="467.80" y1="871.48" x2="467.80" y2="1046.95" stroke="#1e1e1e" stroke-width="1.5"/>
<line x1="460.80" y1="1046.20" x2="467.80" y2="1046.20" stroke="#1e1e1e" stroke-width="1.5"/>
<text x="441.45" y="1050.68" font-family='"Liberation Sans", sans-serif' font-weight="bold" font-size="13.00" fill="#1e1e1e">0.0</text>
<line x1="460.80" y1="1002.52" x2="467.80" y2="1002.52" stroke="#1e1e1e" stroke-width="1.5"/>
<text x="441.45" y="1007.00" font-family='"Liberation Sans", sans-serif' font-weight="bold" font-size="13.00" fill="#1e1e1e">0.2</text>
<line x1="460.80" y1="958.84" x2="467.80" y2="958.84" stroke="#1e1e1e" stroke-width="1.5"/>
<text x="441.00" y="963.33" font-family='"Liberation Sans", sans-serif' font-weight="bold" font-size="13.00" fill="#1e1e1e">0.4</text>
<line x1="460.80" y1="915.16" x2="467.80" y2="915.16" stroke="#1e1e1e" stroke-width="1.5"/>
<text x="441.38" y="919.65" font-family='"Liberation Sans", sans-serif' font-weight="bold" font-size="13.00" fill="#1e1e1e">0.6</text>
<line x1="460.80" y1="871.48" x2="467.80" y2="871.48" stroke="#1e1e1e" stroke-width="1.5"/>
<text x="441.32" y="875.97" font-family='"Liberation Sans", sans-serif' font-weight="bold" font-size="13.00" fill="#1e1e1e">0.8</text>
<line x1="467.05" y1="1046.20" x2="590.40" y2="1046.20" stroke="#1e1e1e" stroke-width="1.5"/>
<line x1="502.20" y1="1046.20" x2="502.20" y2="1049.20" stroke="#1e1e1e" stroke-width="1.5"/>
<line x1="554.50" y1="1046.20" x2="554.50" y2="1049.20" stroke="#1e1e1e" stroke-width="1.5"/>
<rect x="485.20" y="995.53" width="34.50" height="50.67" fill="#050505"/>
<line x1="502.20" y1="995.53" x2="502.20" y2="980.77" stroke="#333" stroke-width="1.3"/>
<line x1="494.20" y1="980.77" x2="510.20" y2="980.77" stroke="#333" stroke-width="1.3"/>
<rect x="537.90" y="908.45" width="33.40" height="137.75" fill="#a2a1a6" stroke="#5a5a5e" stroke-width="1.0"/>
<line x1="554.50" y1="907.95" x2="554.50" y2="886.77" stroke="#333" stroke-width="1.3"/>
<line x1="546.50" y1="886.77" x2="562.50" y2="886.77" stroke="#333" stroke-width="1.3"/>
<polyline points="505.10,886.10 505.10,877.60 554.60,877.60 554.60,886.80" fill="none" stroke="#4a4a4a" stroke-width="1.3" stroke-linejoin="miter"/>
<polygon points="529.50,866.20 530.28,867.45 531.75,867.50 531.06,868.80 531.75,870.10 530.28,870.15 529.50,871.40 528.72,870.15 527.25,870.10 527.94,868.80 527.25,867.50 528.72,867.45" fill="#111" stroke="#111" stroke-width="0.5" stroke-linejoin="round"/>
<rect x="504.30" y="832.00" width="18.50" height="4.80" fill="#050505"/>
<text x="532.55" y="838.06" font-family='"Liberation Sans", sans-serif' font-weight="normal" font-size="10.60" fill="#3a3a3a">NC probe</text>
<rect x="504.80" y="850.00" width="17.50" height="3.80" fill="#a2a1a6" stroke="#5a5a5e" stroke-width="1.0"/>
<text x="532.71" y="855.56" font-family='"Liberation Sans", sans-serif' font-weight="normal" font-size="10.60" fill="#3a3a3a">miR-30e-3p probe</text>
<text transform="translate(427.50,958.90) rotate(-90)" x="-94.78" y="4.14" font-family='"Liberation Sans", sans-serif' font-weight="bold" font-size="12.00" fill="#1e1e1e">Relative RNA expression to input</text>
<text x="501.77" y="1067.44" font-family='"Liberation Sans", sans-serif' font-weight="bold" font-size="13.15" fill="#1e1e1e">circNFIC</text>
<text x="642.16" y="877.70" font-family='"Liberation Serif", serif' font-weight="bold" font-size="28.85" fill="#0a0a0a" textLength="19.36" lengthAdjust="spacingAndGlyphs">N</text>
<text transform="translate(813.40,931.60) rotate(-26.6)" x="-68.38" y="2.88" font-family='"Liberation Serif", serif' font-size="12.79" fill="#222">Bioton-miR-30e-3p mimic</text>
<text transform="translate(925.40,939.60) rotate(-27.3)" x="-46.39" y="4.17" font-family='"Liberation Serif", serif' font-size="12.84" fill="#222">Bioton-mimic NC</text>
<line x1="726.10" y1="972.30" x2="843.40" y2="972.30" stroke="#111" stroke-width="2.0"/>
<line x1="860.80" y1="972.30" x2="977.70" y2="972.30" stroke="#111" stroke-width="2.0"/>
<text x="725.57" y="990.94" font-family='"Liberation Serif", serif' font-weight="normal" font-size="15.07" fill="#222">Input</text>
<text x="784.97" y="991.06" font-family='"Liberation Serif", serif' font-weight="normal" font-size="15.44" fill="#222">pulldown</text>
<text x="860.27" y="990.92" font-family='"Liberation Serif", serif' font-weight="normal" font-size="15.02" fill="#222">Input</text>
<text x="919.27" y="991.08" font-family='"Liberation Serif", serif' font-weight="normal" font-size="15.52" fill="#222">pulldown</text>
<defs><filter id="blur1" x="-20%" y="-50%" width="140%" height="200%"><feGaussianBlur stdDeviation="2.2"/></filter><filter id="blur2" x="-5%" y="-5%" width="110%" height="110%"><feGaussianBlur stdDeviation="1.2"/></filter><clipPath id="gelclip"><rect x="709.6" y="994.7" width="271.9" height="45.1"/></clipPath></defs>
<rect x="709.60" y="994.70" width="271.90" height="45.10" fill="#4a4a4a"/>
<g clip-path="url(#gelclip)"><g filter="url(#blur2)">
<rect x="919.50" y="995.50" width="61.50" height="43.50" fill="#444444"/>
<rect x="849.00" y="995.50" width="17.00" height="43.50" fill="#454545"/>
<rect x="772.00" y="995.50" width="16.00" height="43.50" fill="#474747"/>
</g></g>
<rect x="717.5" y="1011.5" width="46.0" height="11.5" rx="4" fill="#c2c2c2" filter="url(#blur1)"/>
<rect x="793.0" y="1011.5" width="47.5" height="11.5" rx="4" fill="#bdbdbd" filter="url(#blur1)"/>
<rect x="868.5" y="1012.5" width="45.0" height="9.5" rx="4" fill="#8a8a8a" filter="url(#blur1)"/>
<text x="630.97" y="1023.30" font-family='"Liberation Serif", serif' font-weight="bold" font-size="18.01" fill="#111">circNFIC</text>
<text x="1013.49" y="878.42" font-family='"Liberation Serif", serif' font-weight="bold" font-size="27.61" fill="#0a0a0a" textLength="21.96" lengthAdjust="spacingAndGlyphs">O</text>
<line x1="1096.10" y1="861.45" x2="1096.10" y2="1037.25" stroke="#1e1e1e" stroke-width="1.5"/>
<line x1="1090.10" y1="1036.50" x2="1096.10" y2="1036.50" stroke="#1e1e1e" stroke-width="1.5"/>
<text x="1075.42" y="1040.12" font-family='"Liberation Sans", sans-serif' font-weight="bold" font-size="10.50" fill="#1e1e1e">0.0</text>
<line x1="1090.10" y1="978.15" x2="1096.10" y2="978.15" stroke="#1e1e1e" stroke-width="1.5"/>
<text x="1075.27" y="981.77" font-family='"Liberation Sans", sans-serif' font-weight="bold" font-size="10.50" fill="#1e1e1e">0.5</text>
<line x1="1090.10" y1="919.80" x2="1096.10" y2="919.80" stroke="#1e1e1e" stroke-width="1.5"/>
<text x="1075.42" y="923.42" font-family='"Liberation Sans", sans-serif' font-weight="bold" font-size="10.50" fill="#1e1e1e">1.0</text>
<line x1="1090.10" y1="861.45" x2="1096.10" y2="861.45" stroke="#1e1e1e" stroke-width="1.5"/>
<text x="1075.27" y="865.07" font-family='"Liberation Sans", sans-serif' font-weight="bold" font-size="10.50" fill="#1e1e1e">1.5</text>
<line x1="1095.35" y1="1036.50" x2="1279.60" y2="1036.50" stroke="#1e1e1e" stroke-width="1.5"/>
<line x1="1124.60" y1="1036.50" x2="1124.60" y2="1039.50" stroke="#1e1e1e" stroke-width="1.5"/>
<line x1="1166.60" y1="1036.50" x2="1166.60" y2="1039.50" stroke="#1e1e1e" stroke-width="1.5"/>
<line x1="1209.00" y1="1036.50" x2="1209.00" y2="1039.50" stroke="#1e1e1e" stroke-width="1.5"/>
<line x1="1251.10" y1="1036.50" x2="1251.10" y2="1039.50" stroke="#1e1e1e" stroke-width="1.5"/>
<rect x="1110.60" y="919.80" width="28.40" height="116.70" fill="#050505"/>
<line x1="1124.80" y1="919.80" x2="1124.80" y2="915.13" stroke="#333" stroke-width="1.3"/>
<line x1="1117.80" y1="915.13" x2="1131.80" y2="915.13" stroke="#333" stroke-width="1.3"/>
<rect x="1153.50" y="920.30" width="26.80" height="116.20" fill="#a2a1a6" stroke="#5a5a5e" stroke-width="1.0"/>
<line x1="1166.90" y1="919.80" x2="1166.90" y2="913.97" stroke="#333" stroke-width="1.3"/>
<line x1="1159.90" y1="913.97" x2="1173.90" y2="913.97" stroke="#333" stroke-width="1.3"/>
<rect x="1195.40" y="936.14" width="27.20" height="100.36" fill="#0a0af0"/>
<line x1="1209.00" y1="936.14" x2="1209.00" y2="932.64" stroke="#333" stroke-width="1.3"/>
<line x1="1202.00" y1="932.64" x2="1216.00" y2="932.64" stroke="#333" stroke-width="1.3"/>
<rect x="1237.20" y="950.14" width="27.80" height="86.36" fill="#fb0007"/>
<line x1="1251.10" y1="950.14" x2="1251.10" y2="947.22" stroke="#333" stroke-width="1.3"/>
<line x1="1244.10" y1="947.22" x2="1258.10" y2="947.22" stroke="#333" stroke-width="1.3"/>
<polyline points="1124.40,895.30 1124.40,888.70 1251.00,888.70 1251.00,895.30" fill="none" stroke="#4a4a4a" stroke-width="1.3" stroke-linejoin="miter"/>
<polygon points="1181.55,878.30 1182.21,879.36 1183.46,879.40 1182.87,880.50 1183.46,881.60 1182.21,881.64 1181.55,882.70 1180.89,881.64 1179.64,881.60 1180.23,880.50 1179.64,879.40 1180.89,879.36" fill="#111" stroke="#111" stroke-width="0.5" stroke-linejoin="round"/>
<polygon points="1187.80,878.30 1188.46,879.36 1189.71,879.40 1189.12,880.50 1189.71,881.60 1188.46,881.64 1187.80,882.70 1187.14,881.64 1185.89,881.60 1186.48,880.50 1185.89,879.40 1187.14,879.36" fill="#111" stroke="#111" stroke-width="0.5" stroke-linejoin="round"/>
<polygon points="1194.05,878.30 1194.71,879.36 1195.96,879.40 1195.37,880.50 1195.96,881.60 1194.71,881.64 1194.05,882.70 1193.39,881.64 1192.14,881.60 1192.73,880.50 1192.14,879.40 1193.39,879.36" fill="#111" stroke="#111" stroke-width="0.5" stroke-linejoin="round"/>
<polyline points="1166.20,913.90 1166.20,905.10 1251.00,905.10 1251.00,911.20" fill="none" stroke="#4a4a4a" stroke-width="1.3" stroke-linejoin="miter"/>
<polygon points="1202.35,895.80 1203.01,896.86 1204.26,896.90 1203.67,898.00 1204.26,899.10 1203.01,899.14 1202.35,900.20 1201.69,899.14 1200.44,899.10 1201.03,898.00 1200.44,896.90 1201.69,896.86" fill="#111" stroke="#111" stroke-width="0.5" stroke-linejoin="round"/>
<polygon points="1208.60,895.80 1209.26,896.86 1210.51,896.90 1209.92,898.00 1210.51,899.10 1209.26,899.14 1208.60,900.20 1207.94,899.14 1206.69,899.10 1207.28,898.00 1206.69,896.90 1207.94,896.86" fill="#111" stroke="#111" stroke-width="0.5" stroke-linejoin="round"/>
<polygon points="1214.85,895.80 1215.51,896.86 1216.76,896.90 1216.17,898.00 1216.76,899.10 1215.51,899.14 1214.85,900.20 1214.19,899.14 1212.94,899.10 1213.53,898.00 1212.94,896.90 1214.19,896.86" fill="#111" stroke="#111" stroke-width="0.5" stroke-linejoin="round"/>
<polyline points="1209.10,932.40 1209.10,926.30 1251.00,926.30 1251.00,932.40" fill="none" stroke="#4a4a4a" stroke-width="1.3" stroke-linejoin="miter"/>
<polygon points="1229.80,916.90 1230.49,918.00 1231.79,918.05 1231.18,919.20 1231.79,920.35 1230.49,920.40 1229.80,921.50 1229.11,920.40 1227.81,920.35 1228.42,919.20 1227.81,918.05 1229.11,918.00" fill="#111" stroke="#111" stroke-width="0.5" stroke-linejoin="round"/>
<rect x="1135.80" y="824.25" width="14.00" height="4.50" fill="#050505"/>
<text x="1157.75" y="829.43" font-family='"Liberation Sans", sans-serif' font-weight="normal" font-size="8.50" fill="#3a3a3a">pGLO-NC+mimic NC</text>
<rect x="1136.30" y="837.45" width="13.00" height="3.50" fill="#a2a1a6" stroke="#5a5a5e" stroke-width="1.0"/>
<text x="1157.75" y="842.13" font-family='"Liberation Sans", sans-serif' font-weight="normal" font-size="8.50" fill="#3a3a3a">pGLO-circNFIC WT+mimic NC</text>
<rect x="1135.80" y="848.85" width="14.00" height="4.50" fill="#0a0af0"/>
<text x="1157.75" y="854.03" font-family='"Liberation Sans", sans-serif' font-weight="normal" font-size="8.50" fill="#3a3a3a">pGLO-circNFIC MUT+miR-30e-3p</text>
<rect x="1135.80" y="861.85" width="14.00" height="4.50" fill="#fb0007"/>
<text x="1157.75" y="867.03" font-family='"Liberation Sans", sans-serif' font-weight="normal" font-size="8.50" fill="#3a3a3a">pGLO-circNFIC WT+miR-30e-3p</text>
<text transform="translate(1057.70,950.00) rotate(-90)" x="-85.23" y="4.68" font-family='"Liberation Sans", sans-serif' font-weight="bold" font-size="13.57" fill="#1e1e1e">Relative luciferase activity</text>
<text x="1152.95" y="1054.89" font-family='"Liberation Sans", sans-serif' font-weight="bold" font-size="11.27" fill="#1e1e1e">circNFIC site</text></svg>
</body></html>
